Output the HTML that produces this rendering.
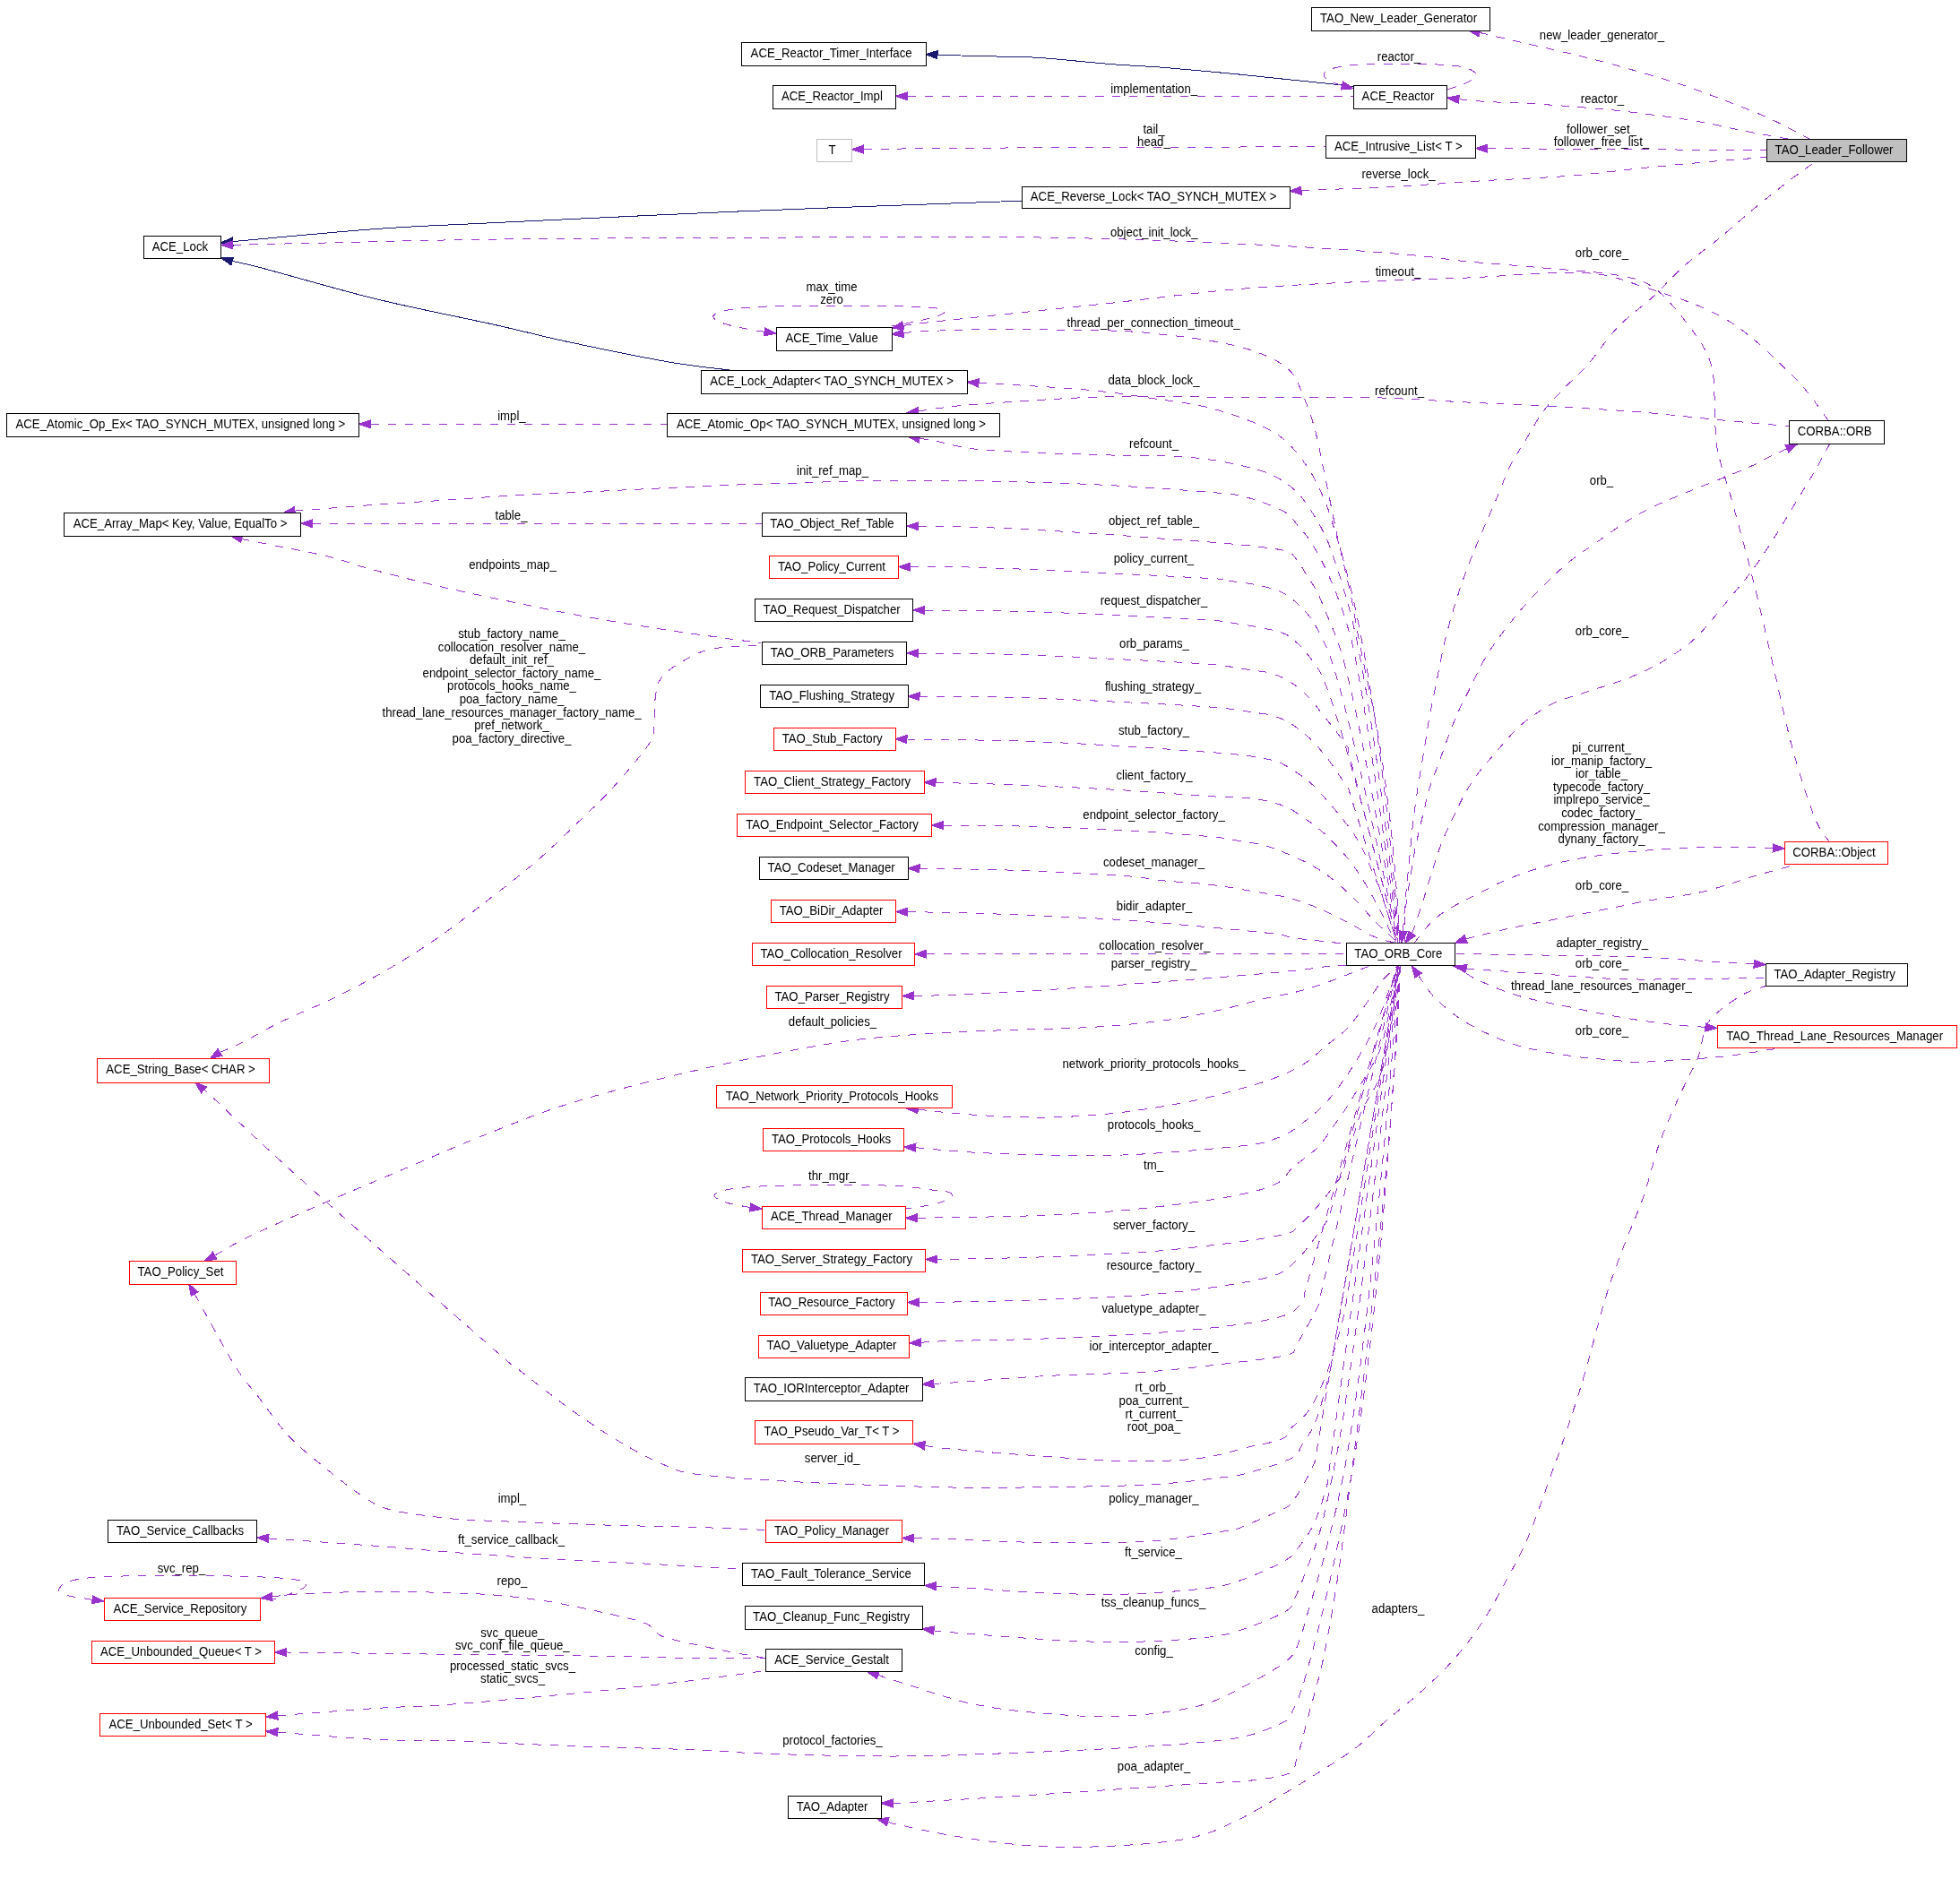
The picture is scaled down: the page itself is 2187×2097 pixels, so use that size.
<!DOCTYPE html><html><head><meta charset="utf-8"><style>html,body{margin:0;padding:0;background:#fff;overflow:hidden;}svg{display:block;will-change:transform;}text{font-family:"Liberation Sans",sans-serif;font-size:13.8px;fill:#000;}</style></head><body>
<svg width="2187" height="2097" viewBox="0 0 2187 2097">
<rect x="0" y="0" width="2187" height="2097" fill="#fff"/>
<g fill="none" stroke-width="1" shape-rendering="crispEdges">
<path d="M1046.0,61.2 C1055.0,61.5 1081.5,62.3 1100.0,62.8 C1118.5,63.3 1133.7,62.8 1157.0,64.3 C1180.3,65.8 1216.2,69.7 1240.0,71.6 C1263.8,73.5 1276.6,73.6 1300.0,75.5 C1323.4,77.4 1356.8,80.5 1380.6,82.8 C1404.4,85.1 1424.3,87.3 1443.0,89.3 C1461.7,91.2 1481.8,93.2 1493.0,94.5 C1504.2,95.8 1507.6,96.7 1510.5,97.1" stroke="#191970"/>
<path d="M1012.8,107.3 C1052.3,107.3 1167.1,107.4 1250.0,107.5 C1332.9,107.6 1466.9,107.7 1510.3,107.7" stroke="#9a32cd" stroke-dasharray="9.5,9.5"/>
<path d="M1497.4,95.6 C1494.7,94.5 1484.2,91.4 1481.0,89.0 C1477.8,86.6 1475.7,83.4 1478.0,81.0 C1480.3,78.6 1486.3,76.1 1495.0,74.5 C1503.7,72.9 1515.0,72.1 1530.0,71.6 C1545.0,71.1 1568.7,71.0 1585.0,71.4 C1601.3,71.8 1617.8,72.4 1628.0,74.0 C1638.2,75.6 1643.5,78.6 1646.0,81.0 C1648.5,83.4 1645.7,86.2 1643.0,88.5 C1640.3,90.8 1634.7,93.1 1630.0,95.0 C1625.3,96.9 1617.2,99.2 1614.6,100.0" stroke="#9a32cd" stroke-dasharray="9.5,9.5"/>
<path d="M1651.0,36.4 C1658.0,38.1 1672.0,41.4 1693.0,46.3 C1714.0,51.2 1749.2,58.8 1777.3,66.0 C1805.4,73.2 1838.1,82.6 1861.5,89.8 C1884.9,97.0 1898.9,102.4 1917.6,109.4 C1936.3,116.4 1956.8,124.3 1973.7,131.9 C1990.6,139.5 2011.5,151.3 2019.0,155.2" stroke="#9a32cd" stroke-dasharray="9.5,9.5"/>
<path d="M1627.8,110.7 C1632.5,111.2 1640.4,112.3 1656.0,113.3 C1671.6,114.3 1696.3,114.8 1721.2,116.5 C1746.1,118.2 1777.3,120.5 1805.4,123.5 C1833.5,126.5 1866.2,130.9 1889.6,134.7 C1913.0,138.4 1928.0,142.6 1945.7,146.0 C1963.4,149.4 1987.6,153.7 1996.0,155.2" stroke="#9a32cd" stroke-dasharray="9.5,9.5"/>
<path d="M1659.9,165.7 C1683.2,165.8 1748.1,166.3 1800.0,166.6 C1851.9,166.9 1942.7,167.4 1971.2,167.6" stroke="#9a32cd" stroke-dasharray="9.5,9.5"/>
<path d="M963.7,166.6 C983.9,166.4 1023.1,165.6 1085.0,165.2 C1146.9,164.8 1269.3,164.6 1335.0,164.3 C1400.7,164.0 1455.0,163.4 1479.0,163.2" stroke="#9a32cd" stroke-dasharray="9.5,9.5"/>
<path d="M1452.0,212.6 C1454.1,212.5 1453.3,212.4 1464.8,212.0 C1476.3,211.6 1502.3,210.8 1521.0,210.0 C1539.7,209.2 1555.5,208.3 1577.0,207.0 C1598.5,205.7 1621.3,203.8 1650.0,202.0 C1678.7,200.2 1718.6,198.8 1749.2,196.4 C1779.8,194.0 1805.3,190.3 1833.4,187.5 C1861.5,184.7 1894.6,181.6 1917.6,179.6 C1940.6,177.6 1962.3,176.2 1971.2,175.5" stroke="#9a32cd" stroke-dasharray="9.5,9.5"/>
<path d="M259.6,269.6 C286.5,267.2 372.6,258.9 421.0,255.4 C469.4,251.9 481.7,252.0 550.0,248.7 C618.3,245.4 738.9,239.5 830.6,235.7 C922.3,231.8 1048.4,227.5 1100.0,225.6 C1151.6,223.7 1133.7,224.7 1140.4,224.5" stroke="#191970"/>
<path d="M259.2,291.5 C265.0,292.8 267.0,292.5 294.0,299.6 C321.0,306.7 378.3,323.6 421.0,334.0 C463.7,344.4 514.5,354.1 550.0,362.0 C585.5,369.9 601.5,374.6 634.2,381.6 C666.9,388.6 716.0,398.7 746.4,404.0 C776.8,409.3 804.9,411.8 816.6,413.3" stroke="#191970"/>
<path d="M259.7,273.3 C263.2,273.2 267.8,273.1 280.6,272.8 C293.4,272.5 291.8,272.6 336.7,271.6 C381.6,270.7 467.7,268.2 550.0,267.1 C632.3,266.0 738.9,265.6 830.6,265.2 C922.3,264.8 1031.8,264.4 1100.0,264.6 C1168.2,264.8 1197.9,265.6 1240.0,266.6 C1282.1,267.6 1315.0,269.2 1352.5,270.8 C1390.0,272.4 1427.4,274.1 1464.8,276.4 C1502.2,278.7 1548.3,282.2 1577.0,284.8 C1605.7,287.4 1613.0,289.5 1637.0,291.8 C1661.0,294.1 1693.1,296.3 1721.2,298.9 C1749.3,301.5 1784.4,303.3 1805.4,307.3 C1826.5,311.3 1833.5,312.2 1847.5,322.7 C1861.5,333.2 1879.3,356.4 1889.6,370.4 C1899.9,384.4 1905.2,393.8 1909.2,406.9 C1913.2,420.0 1912.3,433.5 1913.4,449.0 C1914.5,464.5 1912.9,482.0 1916.0,500.0 C1919.1,518.0 1925.2,532.0 1932.0,557.0 C1938.8,582.0 1949.1,618.9 1956.8,649.8 C1964.5,680.7 1971.2,711.4 1978.4,742.3 C1985.6,773.2 1992.3,806.7 2000.0,835.0 C2007.7,863.3 2017.9,894.6 2024.7,912.0 C2031.5,929.4 2038.3,934.8 2041.0,939.4" stroke="#9a32cd" stroke-dasharray="9.5,9.5"/>
<path d="M1565.5,1039.3 C1566.0,1032.6 1567.4,1012.5 1568.6,999.2 C1569.8,985.9 1571.3,972.6 1572.6,959.3 C1573.9,946.0 1575.0,932.6 1576.6,919.3 C1578.2,906.0 1580.0,892.7 1582.0,879.4 C1584.0,866.1 1586.4,852.8 1588.6,839.5 C1590.8,826.2 1592.8,812.9 1595.2,799.6 C1597.6,786.3 1600.5,772.9 1603.2,759.6 C1605.9,746.3 1608.1,733.0 1611.2,719.7 C1614.3,706.4 1617.9,693.1 1621.9,679.8 C1625.9,666.5 1630.2,653.3 1635.0,640.0 C1639.8,626.7 1645.4,613.3 1651.0,600.0 C1656.6,586.7 1662.7,573.3 1668.4,560.0 C1674.1,546.7 1679.7,530.8 1685.0,520.0 C1690.3,509.2 1694.0,505.0 1700.0,495.0 C1706.0,485.0 1713.9,470.2 1721.2,460.2 C1728.5,450.2 1735.2,443.9 1743.6,435.0 C1752.0,426.1 1761.4,418.6 1771.7,406.9 C1782.0,395.2 1793.2,377.4 1805.4,364.8 C1817.6,352.2 1832.6,342.2 1844.7,331.0 C1856.8,319.8 1866.2,308.2 1878.3,297.5 C1890.4,286.8 1904.5,277.4 1917.6,266.6 C1930.7,255.9 1943.9,243.8 1957.0,233.0 C1970.1,222.2 1984.5,210.8 1996.0,202.0 C2007.5,193.2 2020.8,184.0 2025.7,180.4" stroke="#9a32cd" stroke-dasharray="9.5,9.5"/>
<path d="M1007.7,363.4 C1013.3,362.7 1025.6,360.9 1041.0,359.2 C1056.4,357.5 1066.8,356.5 1100.0,353.0 C1133.2,349.5 1193.2,343.2 1240.0,338.2 C1286.8,333.1 1333.8,326.7 1380.6,322.7 C1427.4,318.7 1478.3,316.4 1521.0,314.3 C1563.7,312.2 1596.2,311.6 1637.0,310.0 C1677.8,308.4 1733.3,302.8 1766.0,304.5 C1798.7,306.2 1806.7,311.4 1833.4,320.0 C1860.1,328.6 1897.9,339.6 1926.0,356.4 C1954.1,373.2 1982.8,402.2 2001.8,421.0 C2020.8,439.8 2033.6,461.2 2040.0,469.2" stroke="#9a32cd" stroke-dasharray="9.5,9.5"/>
<path d="M853.1,370.3 C850.1,369.8 842.9,369.1 835.0,367.5 C827.1,365.9 812.5,363.0 806.0,360.5 C799.5,358.0 794.5,355.0 796.0,352.5 C797.5,350.0 804.3,347.3 815.0,345.5 C825.7,343.7 840.8,342.5 860.0,341.8 C879.2,341.1 906.7,341.2 930.0,341.2 C953.3,341.2 980.8,341.1 1000.0,341.6 C1019.2,342.1 1036.2,342.7 1045.0,344.0 C1053.8,345.3 1055.5,347.3 1053.0,349.5 C1050.5,351.7 1039.7,354.6 1030.0,357.0 C1020.3,359.4 1000.7,362.8 994.8,364.0" stroke="#9a32cd" stroke-dasharray="9.5,9.5"/>
<path d="M1024.8,459.1 C1029.8,458.3 1042.5,456.0 1055.0,454.6 C1067.5,453.2 1069.2,452.4 1100.0,450.4 C1130.8,448.4 1193.2,443.7 1240.0,442.5 C1286.8,441.3 1333.8,443.2 1380.6,443.4 C1427.4,443.5 1478.3,442.5 1521.0,443.4 C1563.7,444.3 1599.0,447.1 1637.0,449.0 C1675.0,450.9 1716.5,452.7 1749.2,454.6 C1781.9,456.5 1805.3,457.9 1833.4,460.2 C1861.5,462.5 1890.4,466.0 1917.6,468.6 C1944.8,471.2 1983.3,474.4 1996.4,475.6" stroke="#9a32cd" stroke-dasharray="9.5,9.5"/>
<path d="M413.7,473.4 L744.2,473.4" stroke="#9a32cd" stroke-dasharray="9.5,9.5"/>
<path d="M348.9,584.2 L850.2,584.2" stroke="#9a32cd" stroke-dasharray="9.5,9.5"/>
<path d="M269.7,601.0 C271.5,601.5 264.7,600.5 280.6,603.8 C296.5,607.1 343.7,615.8 364.8,620.7 C385.9,625.6 387.1,627.9 407.0,633.3 C426.9,638.7 457.3,646.7 484.2,653.0 C511.1,659.3 540.3,665.4 568.4,671.2 C596.5,677.0 624.5,682.9 652.6,688.0 C680.7,693.1 711.0,698.0 736.7,702.0 C762.4,706.0 788.3,709.4 807.0,712.0 C825.7,714.6 842.0,716.6 849.0,717.5" stroke="#9a32cd" stroke-dasharray="9.5,9.5"/>
<path d="M245.5,1174.4 C249.8,1172.5 259.9,1168.6 271.4,1162.9 C282.9,1157.2 297.6,1148.1 314.3,1140.0 C331.0,1131.9 352.3,1123.6 371.4,1114.3 C390.4,1105.0 409.6,1095.2 428.6,1084.3 C447.7,1073.3 466.6,1061.7 485.7,1048.6 C504.8,1035.5 523.9,1020.5 542.9,1005.7 C561.9,990.9 582.9,974.8 600.0,960.0 C617.1,945.2 631.4,930.8 645.7,917.0 C660.0,903.2 672.4,891.8 685.7,877.0 C699.0,862.2 718.2,839.7 725.5,828.3 C732.8,816.9 728.8,816.7 729.7,808.7 C730.6,800.8 729.8,789.0 731.0,780.6 C732.2,772.2 732.5,764.8 736.7,758.2 C740.9,751.7 747.0,746.9 756.4,741.3 C765.8,735.7 777.5,728.0 792.9,724.5 C808.3,721.0 839.6,721.0 849.0,720.3" stroke="#9a32cd" stroke-dasharray="9.5,9.5"/>
<path d="M1008.0,371.9 C1011.2,371.6 1011.7,370.7 1027.0,370.0 C1042.3,369.3 1064.5,368.0 1100.0,367.8 C1135.5,367.6 1206.7,368.0 1240.0,369.0 C1273.3,370.0 1282.9,371.9 1300.0,373.6 C1317.1,375.3 1328.4,376.7 1342.6,379.0 C1356.8,381.3 1372.3,384.0 1385.0,387.5 C1397.7,391.0 1409.8,395.4 1419.0,400.0 C1428.2,404.6 1434.8,408.6 1440.5,415.0 C1446.2,421.4 1448.8,428.6 1453.0,438.6 C1457.2,448.6 1462.4,462.4 1466.0,474.8 C1469.6,487.2 1471.8,499.9 1474.6,513.0 C1477.4,526.1 1480.2,539.7 1483.0,553.5 C1485.8,567.3 1488.8,582.9 1491.6,596.0 C1494.4,609.1 1497.2,619.9 1500.0,632.3 C1502.8,644.7 1505.8,656.4 1508.6,670.6 C1511.4,684.8 1513.4,699.2 1517.0,717.4 C1520.6,735.6 1527.6,768.6 1530.0,780.0 C1532.4,791.4 1530.0,779.8 1531.2,785.9 C1532.4,792.0 1535.1,805.9 1537.0,816.3 C1538.8,826.7 1540.5,837.4 1542.2,848.3 C1543.9,859.3 1545.4,870.5 1546.9,881.9 C1548.4,893.4 1549.8,905.1 1551.2,917.1 C1552.5,929.1 1553.8,941.3 1554.9,953.8 C1556.1,966.3 1557.2,979.1 1558.2,992.1 C1559.2,1005.1 1560.3,1021.9 1560.9,1032.0 C1561.6,1042.0 1561.9,1049.1 1562.1,1052.5" stroke="#9a32cd" stroke-dasharray="9.5,9.5"/>
<path d="M1092.0,427.4 C1112.0,428.7 1178.0,431.9 1212.0,435.0 C1246.0,438.1 1274.2,442.9 1296.0,446.0 C1317.8,449.1 1327.8,450.1 1342.6,453.5 C1357.4,456.9 1372.3,461.6 1385.0,466.2 C1397.7,470.8 1409.8,475.7 1419.0,481.0 C1428.2,486.3 1433.4,490.5 1440.5,498.0 C1447.6,505.5 1455.4,515.5 1461.8,525.8 C1468.2,536.1 1474.5,550.0 1478.8,560.0 C1483.0,570.0 1485.5,580.0 1487.3,585.5 C1489.1,591.0 1487.4,584.9 1489.7,592.9 C1492.1,601.0 1497.7,619.1 1501.4,633.6 C1505.2,648.2 1508.9,663.7 1512.5,680.1 C1516.0,696.6 1519.5,714.1 1522.8,732.5 C1526.1,750.9 1529.3,770.3 1532.4,790.7 C1535.5,811.1 1538.5,832.4 1541.4,854.7 C1544.2,877.0 1547.0,900.3 1549.6,924.6 C1552.3,948.8 1555.2,978.9 1557.2,1000.2 C1559.2,1021.6 1561.0,1043.8 1561.7,1052.5" stroke="#9a32cd" stroke-dasharray="9.5,9.5"/>
<path d="M1026.2,489.5 C1028.6,489.8 1028.7,489.5 1041.0,491.6 C1053.3,493.7 1066.8,499.6 1100.0,502.3 C1133.2,505.0 1206.7,506.9 1240.0,508.0 C1273.3,509.1 1282.9,508.1 1300.0,508.8 C1317.1,509.5 1328.4,510.2 1342.6,512.0 C1356.8,513.8 1372.3,516.5 1385.0,519.5 C1397.7,522.5 1409.0,525.4 1419.0,530.0 C1429.0,534.6 1437.7,540.6 1444.8,547.0 C1451.9,553.4 1456.1,559.9 1461.8,568.4 C1467.5,576.9 1473.8,587.4 1478.8,598.0 C1483.8,608.6 1487.7,620.9 1491.6,632.3 C1495.5,643.7 1500.0,660.0 1502.0,666.4 C1504.0,672.8 1502.0,665.7 1503.3,670.9 C1504.7,676.1 1507.8,687.4 1510.1,697.5 C1512.4,707.5 1514.8,718.7 1517.1,731.1 C1519.5,743.5 1521.9,757.1 1524.4,771.8 C1526.9,786.5 1529.4,802.4 1531.9,819.5 C1534.5,836.6 1537.1,854.8 1539.7,874.3 C1542.3,893.7 1545.0,914.3 1547.7,936.0 C1550.4,957.8 1553.7,985.5 1556.0,1004.9 C1558.2,1024.3 1560.5,1044.6 1561.4,1052.5" stroke="#9a32cd" stroke-dasharray="9.5,9.5"/>
<path d="M329.1,570.1 C344.4,569.0 395.2,565.0 421.0,563.1 C446.8,561.2 459.6,560.6 484.2,559.0 C508.8,557.4 535.7,555.2 568.4,553.3 C601.1,551.4 640.3,549.7 680.6,547.7 C720.9,545.7 776.1,542.9 810.0,541.5 C843.9,540.1 857.6,540.1 884.0,539.3 C910.4,538.5 935.6,537.0 968.4,536.5 C1001.2,536.0 1038.5,535.8 1080.6,536.5 C1122.7,537.2 1176.3,538.6 1221.0,540.7 C1265.7,542.8 1320.9,547.0 1349.0,549.3 C1377.1,551.6 1375.6,551.1 1389.4,554.6 C1403.2,558.1 1422.1,565.0 1432.0,570.5 C1441.9,576.0 1443.7,581.6 1449.0,587.6 C1454.3,593.6 1458.7,598.2 1464.0,606.7 C1469.3,615.2 1475.7,627.3 1481.0,638.7 C1486.3,650.1 1491.5,663.2 1495.8,674.9 C1500.0,686.6 1504.0,700.4 1506.5,709.0 C1509.0,717.6 1509.2,719.5 1510.7,726.4 C1512.2,733.4 1513.6,741.1 1515.4,750.6 C1517.1,760.2 1519.0,771.2 1521.1,783.7 C1523.1,796.1 1525.4,810.1 1527.8,825.5 C1530.2,840.9 1532.8,857.8 1535.5,876.2 C1538.3,894.6 1541.2,914.4 1544.3,935.7 C1547.4,957.0 1551.4,984.5 1554.1,1004.0 C1556.9,1023.5 1559.9,1044.4 1561.0,1052.5" stroke="#9a32cd" stroke-dasharray="9.5,9.5"/>
<path d="M1024.9,587.3 C1038.9,587.6 1076.0,587.6 1108.7,589.0 C1141.4,590.4 1189.1,593.3 1221.0,595.4 C1252.9,597.5 1278.5,599.8 1300.0,601.4 C1321.5,603.0 1333.7,603.7 1350.0,605.0 C1366.3,606.3 1383.9,607.7 1398.0,609.4 C1412.1,611.1 1426.7,612.6 1434.7,615.0 C1442.7,617.4 1442.2,619.2 1446.0,623.5 C1449.8,627.8 1453.5,634.4 1457.5,640.8 C1461.5,647.2 1466.0,653.5 1470.3,662.0 C1474.5,670.5 1479.5,683.5 1483.0,692.0 C1486.5,700.5 1489.1,706.2 1491.6,713.0 C1494.1,719.8 1495.9,725.4 1498.1,733.0 C1500.3,740.5 1502.3,748.6 1504.7,758.4 C1507.0,768.3 1509.6,779.5 1512.3,792.0 C1515.0,804.5 1517.8,818.4 1520.9,833.6 C1523.9,848.8 1527.1,865.3 1530.5,883.2 C1533.8,901.1 1537.4,920.3 1541.1,940.9 C1544.8,961.5 1549.5,988.0 1552.7,1006.6 C1556.0,1025.2 1559.3,1044.9 1560.6,1052.5" stroke="#9a32cd" stroke-dasharray="9.5,9.5"/>
<path d="M1015.9,632.7 C1026.7,632.7 1051.1,632.2 1080.6,633.0 C1110.1,633.8 1148.1,635.4 1193.0,637.5 C1237.9,639.6 1321.5,643.9 1350.0,645.5 C1378.5,647.1 1354.5,645.9 1363.9,647.2 C1373.3,648.6 1395.1,651.1 1406.4,653.6 C1417.8,656.1 1424.9,658.5 1432.0,662.0 C1439.1,665.5 1443.7,669.9 1449.0,674.9 C1454.3,679.9 1459.0,684.5 1464.0,692.0 C1469.0,699.5 1475.2,712.2 1478.8,719.6 C1482.4,727.0 1483.2,729.6 1485.5,736.3 C1487.8,743.0 1490.0,750.4 1492.6,759.7 C1495.3,768.9 1498.1,779.6 1501.2,791.7 C1504.4,803.8 1507.7,817.3 1511.3,832.3 C1514.9,847.2 1518.7,863.6 1522.8,881.5 C1526.9,899.3 1531.2,918.6 1535.8,939.3 C1540.3,960.0 1546.1,986.8 1550.2,1005.7 C1554.2,1024.5 1558.5,1044.7 1560.1,1052.5" stroke="#9a32cd" stroke-dasharray="9.5,9.5"/>
<path d="M1031.9,681.0 C1049.4,681.2 1100.5,681.5 1136.7,682.4 C1172.9,683.3 1213.5,685.0 1249.0,686.6 C1284.5,688.2 1330.8,691.1 1350.0,692.2 C1369.2,693.4 1354.5,692.1 1363.9,693.5 C1373.3,694.9 1395.1,698.2 1406.4,700.4 C1417.8,702.6 1425.6,704.3 1432.0,706.8 C1438.4,709.3 1440.6,711.8 1444.8,715.3 C1449.0,718.8 1452.8,723.0 1457.0,728.0 C1461.2,733.0 1466.7,739.9 1470.0,745.0 C1473.3,750.1 1474.5,752.8 1476.9,758.5 C1479.3,764.2 1481.7,770.8 1484.6,779.1 C1487.4,787.3 1490.5,797.0 1493.9,808.1 C1497.3,819.2 1501.0,831.7 1505.0,845.6 C1509.0,859.5 1513.3,874.8 1517.8,891.5 C1522.4,908.2 1527.2,926.3 1532.3,945.8 C1537.4,965.4 1544.0,990.9 1548.5,1008.7 C1553.1,1026.4 1557.8,1045.2 1559.6,1052.5" stroke="#9a32cd" stroke-dasharray="9.5,9.5"/>
<path d="M1024.9,729.0 C1043.5,729.2 1099.3,729.4 1136.7,730.5 C1174.1,731.6 1213.5,733.9 1249.0,735.7 C1284.5,737.5 1328.2,739.7 1350.0,741.3 C1371.8,742.9 1371.5,744.2 1380.0,745.4 C1388.5,746.6 1394.1,747.3 1400.8,748.4 C1407.5,749.5 1413.5,749.8 1420.0,751.9 C1426.5,754.0 1433.0,756.8 1439.5,760.9 C1446.0,765.0 1452.9,770.8 1458.9,776.8 C1464.9,782.8 1470.2,790.3 1475.5,796.9 C1480.8,803.5 1486.1,810.2 1490.7,816.2 C1495.3,822.2 1500.8,829.1 1503.1,832.8 C1505.4,836.5 1503.1,832.8 1504.6,838.6 C1506.1,844.4 1509.6,858.0 1512.0,867.6 C1514.5,877.3 1517.0,887.0 1519.5,896.7 C1522.0,906.3 1524.5,916.0 1527.0,925.7 C1529.4,935.4 1531.9,945.0 1534.4,954.7 C1536.9,964.4 1539.4,974.1 1541.9,983.7 C1544.4,993.4 1546.8,1003.1 1549.3,1012.8 C1551.8,1022.4 1555.1,1035.2 1556.8,1041.8 C1558.5,1048.4 1559.1,1050.7 1559.5,1052.5" stroke="#9a32cd" stroke-dasharray="9.5,9.5"/>
<path d="M1026.0,777.2 C1044.4,777.4 1099.5,777.5 1136.7,778.5 C1173.9,779.5 1213.5,781.6 1249.0,783.4 C1284.5,785.1 1328.2,787.5 1350.0,789.0 C1371.8,790.5 1371.3,791.3 1380.0,792.4 C1388.7,793.5 1395.1,794.4 1402.0,795.5 C1408.9,796.6 1415.0,796.9 1421.5,799.0 C1428.0,801.1 1434.5,804.0 1441.0,808.0 C1447.5,812.0 1454.1,817.2 1460.3,823.0 C1466.5,828.8 1472.9,836.0 1478.2,842.5 C1483.5,849.0 1487.6,855.7 1492.0,861.9 C1496.4,868.1 1502.2,876.1 1504.5,879.9 C1506.8,883.7 1504.5,879.9 1506.0,884.5 C1507.4,889.2 1510.8,900.0 1513.2,907.7 C1515.7,915.4 1518.1,923.1 1520.5,930.8 C1522.9,938.5 1525.4,946.2 1527.8,953.9 C1530.2,961.7 1532.7,969.4 1535.1,977.1 C1537.5,984.8 1539.9,992.5 1542.4,1000.2 C1544.8,1007.9 1547.2,1015.6 1549.6,1023.4 C1552.1,1031.1 1555.4,1041.6 1556.9,1046.5 C1558.5,1051.3 1558.5,1051.5 1558.8,1052.5" stroke="#9a32cd" stroke-dasharray="9.5,9.5"/>
<path d="M1012.0,825.0 C1032.8,825.3 1097.2,825.8 1136.7,827.0 C1176.2,828.2 1213.5,830.4 1249.0,832.5 C1284.5,834.6 1327.5,837.8 1350.0,839.5 C1372.5,841.2 1374.4,841.4 1384.0,842.5 C1393.6,843.6 1400.5,844.6 1407.7,846.0 C1414.9,847.4 1420.5,848.1 1427.0,850.8 C1433.5,853.4 1440.2,857.8 1446.4,861.9 C1452.6,866.0 1458.6,870.4 1464.4,875.7 C1470.2,881.0 1475.7,887.7 1481.0,893.7 C1486.3,899.7 1491.4,905.7 1496.2,911.7 C1501.0,917.7 1505.9,923.5 1510.0,929.7 C1514.1,935.9 1517.3,941.4 1521.0,949.0 C1524.7,956.6 1529.1,967.7 1532.4,975.3 C1535.7,982.9 1538.7,989.5 1540.6,994.5 C1542.5,999.5 1542.9,1001.8 1543.9,1005.1 C1544.9,1008.3 1545.8,1011.0 1546.7,1013.9 C1547.6,1016.8 1548.5,1019.8 1549.5,1022.7 C1550.4,1025.6 1551.3,1028.6 1552.2,1031.5 C1553.2,1034.5 1553.9,1036.8 1555.0,1040.3 C1556.1,1043.8 1558.2,1050.5 1558.8,1052.5" stroke="#9a32cd" stroke-dasharray="9.5,9.5"/>
<path d="M1044.0,873.4 C1059.4,873.8 1102.5,874.6 1136.7,876.0 C1170.9,877.4 1213.5,879.5 1249.0,881.6 C1284.5,883.7 1328.2,887.4 1350.0,888.7 C1371.8,890.0 1371.8,889.1 1380.0,889.6 C1388.2,890.1 1393.0,890.7 1399.4,891.6 C1405.9,892.5 1412.2,893.4 1418.7,895.1 C1425.2,896.8 1431.6,898.8 1438.1,902.0 C1444.6,905.2 1451.3,910.1 1457.5,914.5 C1463.7,918.9 1469.5,923.0 1475.5,928.3 C1481.5,933.6 1488.9,941.5 1493.5,946.3 C1498.1,951.1 1500.2,953.5 1503.2,957.1 C1506.2,960.7 1508.7,964.1 1511.5,968.0 C1514.3,971.9 1517.1,976.1 1519.9,980.6 C1522.8,985.1 1525.6,989.9 1528.5,994.9 C1531.4,1000.0 1534.3,1005.4 1537.3,1011.0 C1540.2,1016.6 1543.2,1022.5 1546.2,1028.7 C1549.2,1034.9 1553.5,1044.2 1555.3,1048.2 C1557.2,1052.2 1557.0,1051.8 1557.3,1052.5" stroke="#9a32cd" stroke-dasharray="9.5,9.5"/>
<path d="M1052.9,921.1 C1066.9,921.3 1104.0,921.1 1136.7,922.0 C1169.4,922.9 1213.5,924.6 1249.0,926.5 C1284.5,928.4 1327.5,931.6 1350.0,933.6 C1372.5,935.6 1374.4,937.2 1384.0,938.7 C1393.6,940.2 1400.5,941.1 1407.7,942.8 C1414.9,944.5 1420.5,946.6 1427.0,949.0 C1433.5,951.4 1440.7,954.9 1446.4,957.4 C1452.1,959.9 1455.4,961.2 1461.0,964.3 C1466.6,967.4 1473.8,971.5 1480.0,976.0 C1486.2,980.5 1492.3,985.5 1498.4,991.0 C1504.5,996.5 1510.8,1002.8 1516.6,1008.8 C1522.4,1014.8 1527.4,1021.3 1533.0,1027.0 C1538.6,1032.7 1545.5,1038.8 1550.0,1043.0 C1554.5,1047.2 1558.3,1050.9 1560.0,1052.5" stroke="#9a32cd" stroke-dasharray="9.5,9.5"/>
<path d="M1026.0,969.3 C1044.4,969.6 1099.5,970.1 1136.7,971.4 C1173.9,972.7 1221.8,975.1 1249.0,977.0 C1276.2,978.9 1282.2,981.2 1300.0,983.0 C1317.8,984.8 1335.0,985.2 1356.0,988.0 C1377.0,990.8 1412.0,997.1 1426.0,999.5 C1440.0,1001.9 1435.1,1001.3 1440.0,1002.6 C1444.9,1003.9 1449.5,1005.3 1455.3,1007.4 C1461.0,1009.5 1468.3,1012.3 1474.5,1015.0 C1480.7,1017.7 1486.6,1020.7 1492.7,1023.7 C1498.8,1026.8 1505.1,1030.1 1511.0,1033.3 C1516.9,1036.5 1522.3,1040.3 1528.0,1043.0 C1533.7,1045.7 1539.7,1047.9 1545.0,1049.5 C1550.3,1051.1 1557.5,1052.0 1560.0,1052.5" stroke="#9a32cd" stroke-dasharray="9.5,9.5"/>
<path d="M1012.8,1017.7 C1024.7,1017.9 1058.1,1018.2 1084.0,1019.0 C1109.9,1019.8 1139.9,1021.1 1168.0,1022.4 C1196.1,1023.7 1224.5,1024.8 1252.6,1026.7 C1280.7,1028.6 1308.6,1031.2 1336.7,1033.7 C1364.8,1036.2 1403.5,1039.8 1421.0,1042.0 C1438.5,1044.2 1435.7,1045.6 1442.0,1046.7 C1448.3,1047.8 1453.3,1048.0 1459.0,1048.6 C1464.7,1049.2 1470.6,1049.9 1476.4,1050.5 C1482.2,1051.1 1489.3,1052.1 1493.6,1052.4 C1497.9,1052.7 1500.6,1052.5 1502.0,1052.5" stroke="#9a32cd" stroke-dasharray="9.5,9.5"/>
<path d="M1033.8,1064.8 L1502.3,1064.8" stroke="#9a32cd" stroke-dasharray="9.5,9.5"/>
<path d="M1019.8,1111.4 C1023.5,1111.3 1026.6,1111.6 1042.0,1111.0 C1057.4,1110.4 1081.6,1109.7 1112.0,1108.0 C1142.4,1106.3 1187.0,1103.6 1224.5,1101.0 C1262.0,1098.4 1304.0,1095.2 1336.7,1092.6 C1369.5,1090.0 1402.2,1087.3 1421.0,1085.6 C1439.8,1083.9 1441.6,1083.4 1449.2,1082.6 C1456.8,1081.8 1460.5,1081.4 1466.5,1080.6 C1472.5,1079.8 1479.0,1078.6 1485.0,1078.0 C1491.0,1077.4 1499.4,1077.2 1502.3,1077.0" stroke="#9a32cd" stroke-dasharray="9.5,9.5"/>
<path d="M1993.9,500.9 C1991.3,502.0 1986.1,504.1 1978.4,507.8 C1970.7,511.5 1962.9,516.5 1947.5,523.2 C1932.1,529.9 1902.4,541.2 1885.8,548.0 C1869.2,554.8 1859.6,558.5 1848.0,564.0 C1836.4,569.5 1827.1,574.4 1816.0,581.3 C1804.9,588.2 1791.8,598.1 1781.6,605.2 C1771.4,612.3 1763.0,617.7 1755.0,623.9 C1747.0,630.1 1741.2,635.4 1733.7,642.5 C1726.2,649.6 1716.8,659.0 1709.7,666.5 C1702.6,674.0 1697.2,680.3 1691.0,687.8 C1684.8,695.3 1678.2,703.7 1672.4,711.7 C1666.7,719.7 1661.8,726.4 1656.5,735.7 C1651.2,745.0 1645.4,757.9 1640.5,767.6 C1635.6,777.4 1631.2,785.3 1627.2,794.2 C1623.2,803.1 1620.0,811.5 1616.5,820.8 C1613.0,830.1 1609.5,840.3 1605.9,850.1 C1602.4,859.9 1598.3,869.2 1595.2,879.4 C1592.1,889.6 1590.0,900.2 1587.3,911.3 C1584.6,922.4 1581.5,934.9 1579.3,946.0 C1577.1,957.1 1575.8,966.8 1574.0,977.9 C1572.2,989.0 1569.8,1000.1 1568.6,1012.5 C1567.4,1024.9 1567.3,1045.8 1567.0,1052.5" stroke="#9a32cd" stroke-dasharray="9.5,9.5"/>
<path d="M1575.7,1041.6 C1577.6,1035.9 1583.6,1018.7 1587.3,1007.2 C1591.0,995.7 1594.4,983.7 1597.9,972.6 C1601.5,961.5 1604.6,950.8 1608.6,940.6 C1612.6,930.4 1617.5,920.6 1621.9,911.3 C1626.3,902.0 1630.4,893.1 1635.2,884.7 C1640.0,876.3 1645.7,867.9 1651.0,860.8 C1656.3,853.7 1661.7,848.3 1667.0,842.1 C1672.3,835.9 1677.7,829.3 1683.0,823.5 C1688.3,817.7 1693.7,812.1 1699.0,807.5 C1704.3,802.9 1708.8,799.6 1715.0,795.6 C1721.2,791.6 1726.1,787.8 1736.3,783.6 C1746.5,779.4 1762.9,774.7 1776.2,770.3 C1789.5,765.9 1803.8,761.9 1816.2,757.0 C1828.6,752.1 1839.7,747.2 1850.8,741.0 C1861.9,734.8 1874.3,726.2 1882.7,719.7 C1891.1,713.2 1893.0,711.3 1901.2,702.2 C1909.4,693.1 1922.7,676.5 1932.0,665.2 C1941.3,653.9 1948.5,645.6 1956.8,634.3 C1965.0,623.0 1973.3,610.2 1981.5,597.3 C1989.7,584.4 1998.8,568.8 2006.0,557.0 C2013.2,545.2 2018.8,536.6 2024.7,526.3 C2030.7,516.0 2038.9,500.5 2041.7,495.3" stroke="#9a32cd" stroke-dasharray="9.5,9.5"/>
<path d="M1978.1,946.5 C1973.4,946.4 1963.0,946.0 1950.0,945.8 C1937.0,945.6 1917.9,945.0 1900.0,945.5 C1882.1,946.0 1861.2,947.2 1842.8,948.6 C1824.4,950.0 1805.1,952.0 1789.6,954.0 C1774.1,956.0 1762.9,957.7 1749.6,960.6 C1736.3,963.5 1721.7,967.4 1709.7,971.2 C1697.7,975.0 1687.6,979.0 1677.8,983.2 C1668.0,987.4 1659.1,992.5 1651.1,996.5 C1643.1,1000.5 1636.4,1003.7 1629.8,1007.2 C1623.2,1010.8 1617.0,1013.8 1611.2,1017.8 C1605.4,1021.8 1600.7,1025.3 1595.2,1031.1 C1589.7,1036.9 1580.9,1048.9 1578.0,1052.5" stroke="#9a32cd" stroke-dasharray="9.5,9.5"/>
<path d="M1635.6,1047.8 C1643.5,1045.9 1666.2,1040.1 1683.0,1036.4 C1699.8,1032.7 1718.5,1029.3 1736.3,1025.8 C1754.1,1022.2 1771.8,1018.6 1789.6,1015.1 C1807.3,1011.6 1824.4,1007.8 1842.8,1004.5 C1861.2,1001.2 1880.5,999.8 1900.0,995.2 C1919.5,990.6 1942.3,982.1 1960.0,977.0 C1977.7,971.9 1998.3,966.5 2006.0,964.4" stroke="#9a32cd" stroke-dasharray="9.5,9.5"/>
<path d="M1957.1,1075.8 C1950.5,1075.4 1933.5,1074.5 1917.6,1073.5 C1901.7,1072.5 1880.3,1071.0 1861.5,1070.0 C1842.7,1069.0 1828.4,1068.0 1805.0,1067.3 C1781.6,1066.6 1751.3,1066.5 1721.0,1066.0 C1690.7,1065.5 1639.5,1064.8 1623.2,1064.5" stroke="#9a32cd" stroke-dasharray="9.5,9.5"/>
<path d="M1636.0,1081.1 C1650.2,1082.1 1693.0,1085.1 1721.2,1087.0 C1749.4,1088.9 1777.3,1091.7 1805.4,1092.6 C1833.5,1093.5 1862.1,1092.8 1889.6,1092.6 C1917.1,1092.4 1956.9,1091.4 1970.4,1091.2" stroke="#9a32cd" stroke-dasharray="9.5,9.5"/>
<path d="M1902.9,1146.4 C1896.0,1145.8 1877.8,1145.0 1861.5,1143.0 C1845.2,1141.0 1824.1,1138.0 1805.4,1134.7 C1786.7,1131.5 1767.9,1127.5 1749.2,1123.5 C1730.5,1119.5 1709.2,1115.8 1693.0,1111.0 C1676.8,1106.2 1661.1,1099.0 1651.8,1095.0 C1642.5,1091.0 1642.3,1090.0 1637.0,1087.0 C1631.7,1084.0 1622.8,1078.9 1620.0,1077.3" stroke="#9a32cd" stroke-dasharray="9.5,9.5"/>
<path d="M1582.6,1088.6 C1585.8,1092.9 1592.7,1105.4 1601.8,1114.3 C1610.9,1123.2 1622.6,1133.4 1637.5,1142.0 C1652.4,1150.6 1671.7,1159.9 1691.0,1166.0 C1710.3,1172.1 1735.4,1175.8 1753.6,1178.6 C1771.8,1181.4 1786.7,1181.9 1800.0,1183.0 C1813.3,1184.1 1813.8,1185.8 1833.4,1185.2 C1853.0,1184.6 1892.3,1182.1 1917.6,1179.6 C1942.9,1177.1 1971.3,1171.7 1985.0,1170.0 C1998.7,1168.3 1997.5,1169.6 2000.0,1169.5" stroke="#9a32cd" stroke-dasharray="9.5,9.5"/>
<path d="M990.8,2033.2 C992.6,2033.7 989.1,2033.6 1001.8,2036.3 C1014.5,2039.0 1041.5,2045.4 1066.8,2049.4 C1092.1,2053.4 1124.7,2058.4 1153.6,2060.2 C1182.5,2062.0 1211.4,2061.6 1240.3,2060.2 C1269.2,2058.8 1303.7,2056.2 1327.0,2051.5 C1350.3,2046.8 1362.8,2039.8 1380.0,2031.8 C1397.2,2023.8 1414.6,2012.5 1430.3,2003.3 C1446.0,1994.1 1459.9,1985.4 1473.9,1976.5 C1487.9,1967.6 1501.8,1959.2 1514.1,1949.7 C1526.4,1940.2 1535.4,1930.1 1547.7,1919.5 C1560.0,1908.9 1575.1,1897.8 1587.9,1886.0 C1600.8,1874.2 1613.6,1861.9 1624.8,1849.0 C1636.0,1836.1 1645.5,1823.3 1655.0,1808.8 C1664.5,1794.3 1673.4,1777.5 1681.8,1761.9 C1690.2,1746.3 1697.5,1733.5 1705.3,1715.0 C1713.1,1696.5 1721.5,1671.3 1728.8,1651.2 C1736.1,1631.1 1742.2,1614.3 1748.9,1594.2 C1755.6,1574.1 1761.9,1554.7 1769.0,1530.5 C1776.1,1506.3 1784.3,1471.9 1791.3,1449.0 C1798.3,1426.1 1804.0,1411.7 1811.0,1393.0 C1818.0,1374.3 1826.9,1355.4 1833.4,1336.7 C1839.9,1318.0 1844.4,1297.0 1850.0,1280.6 C1855.6,1264.2 1861.3,1251.6 1867.0,1238.5 C1872.7,1225.4 1879.3,1211.8 1884.0,1202.0 C1888.7,1192.2 1891.7,1188.9 1895.0,1179.6 C1898.3,1170.3 1899.8,1154.4 1903.6,1146.0 C1907.4,1137.6 1910.6,1135.1 1917.6,1129.0 C1924.6,1122.9 1936.8,1114.2 1945.7,1109.4 C1954.6,1104.6 1966.8,1101.7 1971.0,1100.2" stroke="#9a32cd" stroke-dasharray="9.5,9.5"/>
<path d="M1024.2,1238.2 C1034.2,1239.2 1060.0,1242.5 1084.0,1244.0 C1108.0,1245.5 1139.9,1247.5 1168.0,1247.0 C1196.1,1246.5 1224.4,1244.6 1252.6,1241.3 C1280.8,1238.0 1312.0,1232.6 1337.0,1227.3 C1362.0,1222.0 1388.2,1213.8 1402.7,1209.7 C1417.2,1205.6 1417.3,1205.0 1424.0,1202.4 C1430.7,1199.9 1436.4,1197.6 1442.6,1194.4 C1448.8,1191.2 1455.0,1187.6 1461.2,1183.0 C1467.4,1178.4 1472.9,1172.8 1479.8,1167.0 C1486.7,1161.2 1495.4,1155.8 1502.4,1148.5 C1509.4,1141.2 1515.5,1132.3 1522.0,1123.5 C1528.5,1114.7 1535.3,1103.1 1541.6,1095.4 C1547.9,1087.7 1556.9,1080.3 1560.0,1077.3" stroke="#9a32cd" stroke-dasharray="9.5,9.5"/>
<path d="M1021.8,1280.7 C1032.2,1281.6 1059.6,1284.6 1084.0,1286.0 C1108.4,1287.4 1139.9,1288.5 1168.0,1289.0 C1196.1,1289.5 1224.4,1289.9 1252.6,1289.0 C1280.8,1288.1 1312.4,1285.4 1337.0,1283.4 C1361.6,1281.4 1385.7,1279.1 1400.0,1277.0 C1414.3,1274.9 1415.7,1273.5 1422.6,1271.0 C1429.5,1268.5 1435.0,1266.1 1441.2,1262.3 C1447.4,1258.5 1454.8,1252.3 1459.9,1248.3 C1465.0,1244.3 1467.6,1242.3 1471.8,1238.3 C1476.0,1234.3 1479.9,1230.5 1485.0,1224.3 C1490.1,1218.1 1497.1,1208.8 1502.4,1201.0 C1507.7,1193.2 1512.3,1185.7 1517.0,1177.8 C1521.7,1169.9 1526.4,1161.8 1530.4,1153.8 C1534.4,1145.8 1537.7,1138.0 1541.0,1129.9 C1544.3,1121.8 1546.8,1113.8 1550.0,1105.0 C1553.2,1096.2 1558.3,1081.9 1560.0,1077.3" stroke="#9a32cd" stroke-dasharray="9.5,9.5"/>
<path d="M1023.7,1359.2 C1038.4,1359.0 1083.2,1358.5 1112.0,1357.8 C1140.8,1357.1 1168.3,1356.6 1196.4,1355.0 C1224.5,1353.4 1252.5,1351.0 1280.6,1348.0 C1308.7,1345.0 1341.4,1340.9 1364.8,1336.7 C1388.2,1332.5 1408.0,1328.4 1421.0,1322.7 C1434.0,1317.0 1435.9,1308.5 1442.6,1302.8 C1449.3,1297.0 1456.1,1292.4 1461.2,1288.2 C1466.3,1284.0 1467.9,1284.0 1473.2,1277.6 C1478.5,1271.2 1488.1,1256.5 1493.0,1249.6 C1497.9,1242.7 1498.8,1241.8 1502.4,1236.3 C1506.0,1230.8 1509.3,1224.8 1514.4,1216.4 C1519.5,1208.0 1528.4,1194.4 1533.0,1185.8 C1537.6,1177.2 1539.2,1174.3 1542.0,1165.0 C1544.8,1155.7 1547.0,1144.6 1550.0,1130.0 C1553.0,1115.4 1558.3,1086.1 1560.0,1077.3" stroke="#9a32cd" stroke-dasharray="9.5,9.5"/>
<path d="M1045.9,1405.5 C1047.6,1405.5 1035.6,1406.0 1056.0,1405.5 C1076.4,1405.0 1130.6,1404.1 1168.0,1402.7 C1205.4,1401.3 1245.5,1399.7 1280.6,1397.0 C1315.7,1394.3 1353.1,1389.8 1378.8,1386.5 C1404.5,1383.2 1423.3,1380.1 1435.0,1377.0 C1446.7,1373.9 1442.9,1373.3 1449.0,1368.0 C1455.1,1362.7 1464.4,1353.0 1471.4,1345.0 C1478.4,1337.0 1486.5,1326.1 1491.0,1320.0 C1495.5,1313.9 1496.2,1314.6 1498.5,1308.2 C1500.8,1301.8 1503.1,1288.4 1505.1,1281.5 C1507.1,1274.6 1508.0,1274.1 1510.4,1267.0 C1512.8,1259.9 1514.8,1250.2 1519.7,1239.0 C1524.6,1227.8 1534.5,1216.5 1540.0,1200.0 C1545.5,1183.5 1549.7,1160.5 1553.0,1140.0 C1556.3,1119.5 1558.8,1087.8 1560.0,1077.3" stroke="#9a32cd" stroke-dasharray="9.5,9.5"/>
<path d="M1025.7,1453.5 C1030.7,1453.4 1032.3,1453.7 1056.0,1453.2 C1079.7,1452.7 1130.6,1451.8 1168.0,1450.4 C1205.4,1449.0 1247.8,1447.4 1280.6,1444.8 C1313.4,1442.2 1341.4,1438.5 1364.8,1435.0 C1388.2,1431.5 1407.9,1427.9 1421.0,1423.7 C1434.1,1419.5 1436.4,1415.8 1443.4,1409.7 C1450.4,1403.6 1456.5,1395.6 1463.0,1387.2 C1469.5,1378.8 1479.1,1365.1 1482.7,1359.2 C1486.3,1353.3 1482.7,1359.2 1484.7,1351.8 C1486.7,1344.5 1491.4,1327.3 1494.7,1315.1 C1498.0,1302.8 1501.4,1290.6 1504.7,1278.3 C1508.0,1266.0 1511.4,1253.8 1514.7,1241.5 C1518.1,1229.3 1521.4,1217.0 1524.7,1204.7 C1528.1,1192.5 1531.4,1180.2 1534.7,1168.0 C1538.1,1155.7 1541.4,1143.5 1544.7,1131.2 C1548.1,1118.9 1552.3,1103.4 1554.7,1094.4 C1557.2,1085.4 1558.6,1080.2 1559.4,1077.3" stroke="#9a32cd" stroke-dasharray="9.5,9.5"/>
<path d="M1027.7,1498.3 C1032.4,1498.0 1032.6,1497.4 1056.0,1496.7 C1079.4,1496.0 1130.6,1495.3 1168.0,1493.9 C1205.4,1492.5 1245.3,1490.9 1280.6,1488.3 C1315.9,1485.7 1353.9,1482.1 1380.0,1478.5 C1406.1,1474.9 1424.7,1471.5 1437.0,1466.8 C1449.3,1462.0 1450.5,1454.4 1453.8,1450.0 C1457.1,1445.6 1453.8,1450.0 1456.5,1440.4 C1459.2,1430.8 1465.6,1408.3 1470.1,1392.2 C1474.7,1376.2 1479.2,1360.2 1483.8,1344.1 C1488.3,1328.1 1492.8,1312.0 1497.4,1296.0 C1501.9,1280.0 1506.5,1263.9 1511.0,1247.9 C1515.5,1231.8 1520.1,1215.8 1524.6,1199.8 C1529.2,1183.7 1533.7,1167.7 1538.2,1151.6 C1542.8,1135.6 1548.3,1115.9 1551.9,1103.5 C1555.4,1091.1 1558.0,1081.7 1559.3,1077.3" stroke="#9a32cd" stroke-dasharray="9.5,9.5"/>
<path d="M1042.0,1544.3 C1044.3,1544.1 1035.0,1545.0 1056.0,1543.5 C1077.0,1542.0 1130.6,1537.6 1168.0,1535.5 C1205.4,1533.4 1245.3,1533.4 1280.6,1530.9 C1315.9,1528.4 1353.9,1523.6 1380.0,1520.4 C1406.1,1517.2 1425.8,1515.3 1437.0,1512.0 C1448.2,1508.7 1441.4,1509.2 1447.0,1500.3 C1452.6,1491.4 1466.2,1467.0 1470.5,1458.4 C1474.8,1449.8 1470.5,1458.4 1472.8,1448.6 C1475.1,1438.7 1480.5,1415.8 1484.3,1399.4 C1488.2,1383.0 1492.0,1366.6 1495.9,1350.2 C1499.7,1333.8 1503.6,1317.4 1507.4,1301.0 C1511.2,1284.6 1515.1,1268.3 1518.9,1251.9 C1522.8,1235.5 1526.6,1219.1 1530.5,1202.7 C1534.3,1186.3 1538.2,1169.9 1542.0,1153.5 C1545.8,1137.1 1550.5,1117.0 1553.5,1104.3 C1556.5,1091.6 1558.8,1081.8 1559.9,1077.3" stroke="#9a32cd" stroke-dasharray="9.5,9.5"/>
<path d="M1031.8,1613.2 C1035.8,1613.7 1037.9,1614.8 1056.0,1616.5 C1074.1,1618.2 1107.5,1621.2 1140.3,1623.5 C1173.1,1625.8 1219.9,1629.8 1252.6,1630.5 C1285.3,1631.2 1313.3,1630.3 1336.7,1627.7 C1360.1,1625.1 1377.4,1618.6 1393.0,1615.0 C1408.6,1611.4 1422.4,1609.5 1430.3,1606.0 C1438.2,1602.5 1435.4,1599.5 1440.4,1594.2 C1445.4,1588.9 1454.3,1583.0 1460.5,1574.0 C1466.7,1565.0 1472.3,1552.8 1477.3,1540.5 C1482.3,1528.2 1486.8,1513.1 1490.7,1500.3 C1494.6,1487.5 1498.8,1471.2 1500.7,1463.4 C1502.6,1455.6 1500.7,1463.4 1502.3,1453.4 C1503.8,1443.5 1507.4,1420.2 1510.0,1403.6 C1512.6,1387.0 1515.2,1370.4 1517.8,1353.8 C1520.3,1337.2 1522.9,1320.6 1525.5,1304.0 C1528.1,1287.4 1530.7,1270.8 1533.3,1254.2 C1535.9,1237.6 1538.4,1221.0 1541.0,1204.4 C1543.6,1187.8 1546.2,1171.2 1548.8,1154.6 C1551.4,1138.0 1554.5,1117.7 1556.5,1104.8 C1558.6,1092.0 1560.1,1081.9 1560.8,1077.3" stroke="#9a32cd" stroke-dasharray="9.5,9.5"/>
<path d="M227.6,1216.4 C229.1,1217.7 218.8,1207.7 237.0,1224.5 C255.2,1241.3 284.5,1270.2 336.7,1317.0 C388.9,1363.8 509.2,1469.4 550.0,1505.0 C590.8,1540.6 566.4,1518.8 581.4,1530.6 C596.4,1542.3 621.1,1561.9 640.3,1575.5 C659.5,1589.1 679.1,1601.9 696.4,1612.0 C713.7,1622.1 730.0,1630.4 744.0,1636.0 C758.0,1641.6 755.8,1642.7 780.6,1645.7 C805.4,1648.7 848.1,1651.7 893.0,1654.0 C937.9,1656.3 1008.8,1658.7 1050.0,1659.7 C1091.2,1660.7 1101.9,1660.5 1140.3,1660.0 C1178.7,1659.5 1243.2,1658.9 1280.6,1657.0 C1318.0,1655.1 1346.6,1650.8 1364.8,1648.7 C1383.0,1646.6 1377.4,1648.0 1390.0,1644.5 C1402.6,1641.0 1429.8,1633.3 1440.4,1627.7 C1451.0,1622.1 1449.0,1618.3 1453.8,1611.0 C1458.5,1603.7 1463.9,1597.5 1468.9,1584.1 C1473.9,1570.7 1481.2,1541.4 1484.0,1530.5 C1486.8,1519.6 1484.0,1530.5 1486.0,1518.9 C1487.9,1507.2 1492.5,1480.1 1495.8,1460.7 C1499.1,1441.3 1502.4,1421.9 1505.7,1402.5 C1508.9,1383.1 1512.2,1363.7 1515.5,1344.3 C1518.8,1324.9 1522.1,1305.5 1525.3,1286.1 C1528.6,1266.7 1531.9,1247.3 1535.2,1227.9 C1538.5,1208.5 1541.8,1189.1 1545.0,1169.7 C1548.3,1150.3 1552.3,1127.0 1554.9,1111.5 C1557.5,1096.1 1559.7,1083.0 1560.7,1077.3" stroke="#9a32cd" stroke-dasharray="9.5,9.5"/>
<path d="M1019.8,1716.8 C1025.8,1716.9 1031.3,1716.7 1056.0,1717.5 C1080.7,1718.3 1130.6,1721.2 1168.0,1721.7 C1205.4,1722.2 1247.8,1722.4 1280.6,1720.3 C1313.4,1718.2 1348.2,1711.3 1364.8,1709.0 C1381.4,1706.7 1369.1,1710.5 1380.0,1706.5 C1390.9,1702.5 1420.2,1689.5 1430.3,1684.7 C1440.4,1680.0 1436.5,1682.5 1440.4,1678.0 C1444.3,1673.5 1449.3,1665.8 1453.8,1658.0 C1458.3,1650.2 1464.6,1637.9 1467.2,1631.0 C1469.8,1624.1 1467.2,1631.0 1469.6,1616.8 C1472.0,1602.7 1477.6,1569.7 1481.5,1546.1 C1485.5,1522.5 1489.5,1498.9 1493.5,1475.4 C1497.5,1451.8 1501.4,1428.2 1505.4,1404.6 C1509.4,1381.0 1513.4,1357.4 1517.4,1333.8 C1521.3,1310.3 1525.3,1286.7 1529.3,1263.1 C1533.3,1239.5 1537.3,1215.9 1541.3,1192.3 C1545.2,1168.8 1550.0,1140.8 1553.2,1121.6 C1556.4,1102.4 1559.4,1084.7 1560.7,1077.3" stroke="#9a32cd" stroke-dasharray="9.5,9.5"/>
<path d="M1044.8,1770.2 C1046.6,1770.3 1035.5,1769.5 1056.0,1770.8 C1076.5,1772.1 1135.2,1776.4 1168.0,1777.8 C1200.8,1779.2 1224.5,1779.9 1252.6,1779.2 C1280.7,1778.5 1315.5,1775.9 1336.7,1773.6 C1357.9,1771.3 1363.8,1770.5 1380.0,1765.2 C1396.2,1759.9 1422.0,1748.5 1433.7,1741.8 C1445.4,1735.1 1444.8,1732.3 1450.4,1725.0 C1456.0,1717.7 1462.2,1709.4 1467.2,1698.2 C1472.2,1687.0 1478.0,1667.2 1480.6,1658.0 C1483.2,1648.8 1480.6,1658.0 1482.7,1643.2 C1484.7,1628.3 1489.5,1593.8 1492.9,1569.1 C1496.3,1544.3 1499.8,1519.6 1503.2,1494.9 C1506.6,1470.2 1510.0,1445.5 1513.5,1420.8 C1516.9,1396.1 1520.3,1371.4 1523.7,1346.7 C1527.2,1322.0 1530.6,1297.3 1534.0,1272.5 C1537.4,1247.8 1540.8,1223.1 1544.3,1198.4 C1547.7,1173.7 1551.7,1144.5 1554.5,1124.3 C1557.3,1104.1 1560.0,1085.1 1561.0,1077.3" stroke="#9a32cd" stroke-dasharray="9.5,9.5"/>
<path d="M1041.9,1819.4 C1044.2,1819.7 1035.0,1819.6 1056.0,1821.3 C1077.0,1823.0 1135.2,1827.8 1168.0,1829.7 C1200.8,1831.6 1224.5,1832.7 1252.6,1832.5 C1280.7,1832.3 1315.5,1830.3 1336.7,1828.3 C1357.9,1826.3 1363.8,1825.5 1380.0,1820.6 C1396.2,1815.7 1422.8,1805.2 1433.7,1798.8 C1444.6,1792.4 1440.9,1791.0 1445.4,1782.0 C1449.9,1773.0 1455.7,1757.8 1460.5,1745.0 C1465.3,1732.2 1469.5,1721.7 1474.0,1704.9 C1478.5,1688.2 1484.9,1655.5 1487.3,1644.5 C1489.7,1633.5 1487.2,1645.6 1488.5,1639.0 C1489.8,1632.3 1492.7,1617.8 1495.0,1604.4 C1497.3,1590.9 1499.7,1575.6 1502.3,1558.3 C1504.9,1541.1 1507.7,1521.9 1510.6,1500.8 C1513.5,1479.7 1516.6,1456.7 1519.8,1431.8 C1523.0,1406.9 1526.3,1380.1 1529.8,1351.3 C1533.3,1322.6 1537.0,1292.0 1540.8,1259.4 C1544.6,1226.8 1549.2,1186.3 1552.6,1156.0 C1556.1,1125.6 1559.9,1090.4 1561.4,1077.3" stroke="#9a32cd" stroke-dasharray="9.5,9.5"/>
<path d="M979.7,1869.3 C983.1,1870.4 982.6,1870.7 1000.0,1876.0 C1017.4,1881.3 1056.0,1895.2 1084.0,1901.3 C1112.0,1907.4 1139.9,1910.2 1168.0,1912.5 C1196.1,1914.8 1224.5,1916.7 1252.6,1915.3 C1280.7,1913.9 1313.8,1909.7 1336.7,1904.0 C1359.6,1898.3 1373.3,1889.6 1390.0,1881.0 C1406.7,1872.4 1426.9,1861.1 1437.0,1852.4 C1447.1,1843.7 1446.5,1838.5 1450.4,1829.0 C1454.3,1819.5 1456.0,1810.5 1460.5,1795.4 C1465.0,1780.3 1472.3,1756.9 1477.3,1738.4 C1482.3,1720.0 1488.2,1694.8 1490.7,1684.7 C1493.2,1674.6 1490.7,1685.8 1492.4,1677.9 C1494.0,1669.9 1497.9,1652.4 1500.8,1637.0 C1503.6,1621.5 1506.4,1604.1 1509.3,1585.0 C1512.2,1565.8 1515.2,1544.8 1518.1,1521.9 C1521.1,1499.1 1524.0,1474.3 1527.1,1447.8 C1530.1,1421.2 1533.1,1392.8 1536.2,1362.6 C1539.3,1332.3 1542.4,1300.2 1545.5,1266.3 C1548.6,1232.3 1552.3,1190.4 1555.0,1158.9 C1557.7,1127.4 1560.6,1090.9 1561.8,1077.3" stroke="#9a32cd" stroke-dasharray="9.5,9.5"/>
<path d="M309.9,1933.1 C328.4,1934.5 387.9,1939.8 421.0,1941.5 C454.1,1943.2 471.8,1941.8 508.4,1943.0 C544.9,1944.2 594.9,1947.0 640.3,1948.7 C685.7,1950.4 745.6,1951.6 780.6,1953.0 C815.6,1954.4 813.4,1955.8 850.0,1957.0 C886.6,1958.2 951.6,1960.2 1000.0,1960.0 C1048.4,1959.8 1093.5,1957.8 1140.3,1956.0 C1187.1,1954.2 1240.6,1951.7 1280.6,1949.0 C1320.5,1946.3 1355.0,1944.0 1380.0,1939.6 C1405.0,1935.2 1420.2,1927.3 1430.3,1922.8 C1440.4,1918.3 1436.8,1918.9 1440.4,1912.8 C1444.0,1906.7 1447.6,1899.4 1452.1,1886.0 C1456.6,1872.6 1462.5,1850.2 1467.2,1832.3 C1472.0,1814.4 1476.1,1797.6 1480.6,1778.6 C1485.1,1759.6 1491.4,1730.1 1494.0,1718.3 C1496.6,1706.5 1494.1,1719.0 1496.3,1707.7 C1498.5,1696.3 1503.8,1670.6 1507.4,1650.2 C1511.0,1629.8 1514.4,1608.2 1517.8,1585.3 C1521.1,1562.5 1524.3,1538.5 1527.3,1513.2 C1530.4,1487.9 1533.4,1461.4 1536.2,1433.7 C1539.0,1406.0 1541.7,1377.1 1544.2,1346.9 C1546.8,1316.8 1549.2,1285.4 1551.5,1252.8 C1553.8,1220.3 1556.3,1180.7 1558.1,1151.4 C1559.8,1122.2 1561.4,1089.7 1562.1,1077.3" stroke="#9a32cd" stroke-dasharray="9.5,9.5"/>
<path d="M996.0,2012.5 C1015.0,2011.4 1069.5,2008.5 1110.2,2006.0 C1150.9,2003.5 1196.9,2000.2 1240.3,1997.3 C1283.7,1994.4 1346.0,1990.1 1370.4,1988.6 C1394.8,1987.1 1375.6,1989.7 1386.7,1988.2 C1397.8,1986.7 1427.0,1984.0 1437.0,1979.8 C1447.0,1975.6 1443.1,1974.2 1447.0,1963.0 C1450.9,1951.8 1456.0,1929.5 1460.5,1912.8 C1465.0,1896.0 1470.1,1879.3 1474.0,1862.5 C1477.9,1845.7 1480.7,1830.7 1484.0,1812.2 C1487.3,1793.8 1491.2,1770.2 1494.0,1751.8 C1496.8,1733.3 1499.1,1713.3 1500.7,1701.5 C1502.3,1689.7 1500.9,1700.9 1503.4,1680.8 C1506.0,1660.7 1512.2,1613.3 1516.2,1581.0 C1520.2,1548.8 1524.0,1517.6 1527.5,1487.4 C1531.0,1457.2 1534.2,1428.0 1537.2,1399.9 C1540.2,1371.7 1543.0,1344.6 1545.5,1318.5 C1547.9,1292.4 1550.2,1267.3 1552.1,1243.2 C1554.1,1219.1 1555.8,1196.1 1557.3,1174.0 C1558.8,1152.0 1560.1,1127.1 1560.9,1111.0 C1561.8,1094.9 1562.1,1082.9 1562.3,1077.3" stroke="#9a32cd" stroke-dasharray="9.5,9.5"/>
<path d="M239.7,1401.1 C246.0,1397.6 257.4,1390.0 277.8,1380.2 C298.2,1370.4 333.3,1354.9 362.0,1342.4 C390.7,1329.9 419.6,1317.9 450.0,1305.0 C480.4,1292.1 512.7,1277.7 544.4,1265.2 C576.1,1252.7 600.9,1241.9 640.3,1230.0 C679.7,1218.1 733.8,1204.3 780.6,1193.6 C827.4,1182.9 883.5,1171.9 921.0,1165.6 C958.5,1159.3 973.8,1158.3 1005.6,1155.7 C1037.4,1153.1 1075.5,1151.6 1112.0,1150.0 C1148.5,1148.4 1191.7,1148.1 1224.5,1146.0 C1257.3,1143.9 1285.3,1140.8 1308.7,1137.5 C1332.1,1134.2 1349.6,1129.7 1364.8,1126.3 C1380.0,1122.9 1390.8,1119.5 1400.0,1117.2 C1409.2,1114.9 1413.3,1114.0 1420.0,1112.6 C1426.7,1111.2 1433.8,1110.0 1440.0,1108.6 C1446.2,1107.2 1451.0,1105.8 1457.0,1104.0 C1463.0,1102.2 1469.5,1100.1 1475.8,1098.0 C1482.0,1095.9 1487.2,1094.1 1494.5,1091.3 C1501.8,1088.5 1513.8,1083.6 1519.7,1081.3 C1525.6,1079.0 1528.3,1078.0 1530.0,1077.3" stroke="#9a32cd" stroke-dasharray="9.5,9.5"/>
<path d="M837.0,1347.5 C832.5,1346.6 816.7,1344.3 810.0,1342.0 C803.3,1339.7 796.2,1336.5 797.0,1334.0 C797.8,1331.5 804.5,1328.8 815.0,1327.0 C825.5,1325.2 840.8,1324.2 860.0,1323.5 C879.2,1322.8 906.7,1322.5 930.0,1322.5 C953.3,1322.5 981.3,1322.5 1000.0,1323.5 C1018.7,1324.5 1032.0,1327.0 1042.0,1328.3 C1052.0,1329.5 1057.0,1329.5 1060.0,1331.0 C1063.0,1332.5 1063.0,1334.8 1060.0,1337.0 C1057.0,1339.2 1050.3,1342.0 1042.0,1344.0 C1033.7,1346.0 1015.7,1348.2 1010.4,1349.0" stroke="#9a32cd" stroke-dasharray="9.5,9.5"/>
<path d="M217.2,1444.2 C224.8,1457.6 250.4,1505.4 262.4,1524.7 C274.4,1544.0 278.9,1546.7 289.0,1559.8 C299.1,1572.9 310.1,1590.0 322.7,1603.3 C335.3,1616.6 351.2,1628.8 364.8,1639.8 C378.4,1650.8 392.3,1661.8 404.0,1669.3 C415.7,1676.8 419.0,1680.5 435.0,1684.7 C451.0,1688.9 479.8,1692.3 500.0,1694.5 C520.2,1696.7 527.9,1696.4 556.0,1697.6 C584.1,1698.8 631.0,1700.6 668.4,1701.8 C705.8,1703.0 749.6,1703.7 780.6,1704.6 C811.6,1705.5 842.1,1706.9 854.4,1707.4" stroke="#9a32cd" stroke-dasharray="9.5,9.5"/>
<path d="M299.8,1716.9 C320.0,1718.3 386.2,1722.8 421.0,1725.4 C455.8,1728.0 476.5,1730.3 508.4,1732.7 C540.3,1735.1 576.2,1737.6 612.2,1739.7 C648.2,1741.8 688.5,1743.4 724.5,1745.3 C760.5,1747.2 811.0,1750.0 828.3,1751.0" stroke="#9a32cd" stroke-dasharray="9.5,9.5"/>
<path d="M103.0,1785.3 C98.0,1784.4 79.2,1782.0 73.0,1780.0 C66.8,1778.0 64.8,1775.7 66.0,1773.0 C67.2,1770.3 71.0,1766.2 80.0,1764.0 C89.0,1761.8 100.0,1760.4 120.0,1759.5 C140.0,1758.6 173.3,1758.7 200.0,1758.7 C226.7,1758.7 258.3,1758.8 280.0,1759.5 C301.7,1760.2 319.8,1761.2 330.0,1763.0 C340.2,1764.8 344.1,1767.0 341.0,1770.3 C337.9,1773.6 319.9,1780.4 311.5,1783.0 C303.1,1785.6 293.9,1785.5 290.4,1786.0" stroke="#9a32cd" stroke-dasharray="9.5,9.5"/>
<path d="M303.6,1782.1 C309.1,1781.5 317.1,1779.7 336.7,1778.7 C356.3,1777.7 393.8,1776.5 421.0,1776.3 C448.2,1776.1 477.5,1776.9 500.0,1777.6 C522.5,1778.3 537.3,1778.8 556.0,1780.4 C574.7,1782.0 593.5,1784.4 612.2,1787.4 C630.9,1790.4 650.6,1794.6 668.4,1798.6 C686.2,1802.6 708.1,1807.2 718.9,1811.2 C729.7,1815.2 728.8,1819.7 733.0,1822.5 C737.2,1825.3 736.1,1825.7 744.0,1828.0 C751.9,1830.3 767.5,1833.7 780.6,1836.5 C793.7,1839.3 810.4,1842.7 822.7,1845.0 C835.0,1847.3 849.1,1849.6 854.4,1850.5" stroke="#9a32cd" stroke-dasharray="9.5,9.5"/>
<path d="M319.7,1844.1 C322.5,1844.1 306.6,1843.8 336.7,1844.2 C366.8,1844.6 449.4,1845.7 500.0,1846.3 C550.6,1846.9 593.5,1847.0 640.3,1847.7 C687.1,1848.4 744.9,1850.0 780.6,1850.5 C816.3,1851.0 842.1,1850.5 854.4,1850.5" stroke="#9a32cd" stroke-dasharray="9.5,9.5"/>
<path d="M309.8,1914.7 C328.3,1913.3 389.3,1908.5 421.0,1906.4 C452.7,1904.3 468.1,1904.7 500.0,1902.4 C531.9,1900.1 579.5,1895.6 612.2,1892.6 C644.9,1889.6 668.3,1887.2 696.4,1884.2 C724.5,1881.2 754.3,1877.7 780.6,1874.4 C806.9,1871.1 842.1,1866.2 854.4,1864.5" stroke="#9a32cd" stroke-dasharray="9.5,9.5"/>
</g>
<polygon points="1032.7,60.7 1046.2,56.6 1045.8,65.8" fill="#191970" stroke="#191970" stroke-width="1" stroke-linejoin="miter" shape-rendering="crispEdges"/>
<polygon points="999.5,107.3 1012.8,102.7 1012.8,111.9" fill="#9a32cd" stroke="#9a32cd" stroke-width="1" stroke-linejoin="miter" shape-rendering="crispEdges"/>
<polygon points="1510.3,98.8 1496.3,100.1 1498.5,91.1" fill="#9a32cd" stroke="#9a32cd" stroke-width="1" stroke-linejoin="miter" shape-rendering="crispEdges"/>
<polygon points="1638.0,33.7 1652.0,31.9 1650.1,40.9" fill="#9a32cd" stroke="#9a32cd" stroke-width="1" stroke-linejoin="miter" shape-rendering="crispEdges"/>
<polygon points="1614.6,109.2 1628.3,106.2 1627.3,115.3" fill="#9a32cd" stroke="#9a32cd" stroke-width="1" stroke-linejoin="miter" shape-rendering="crispEdges"/>
<polygon points="1646.6,165.6 1659.9,161.1 1659.9,170.3" fill="#9a32cd" stroke="#9a32cd" stroke-width="1" stroke-linejoin="miter" shape-rendering="crispEdges"/>
<polygon points="950.4,166.8 963.6,162.0 963.8,171.2" fill="#9a32cd" stroke="#9a32cd" stroke-width="1" stroke-linejoin="miter" shape-rendering="crispEdges"/>
<polygon points="1438.7,213.3 1451.8,208.0 1452.2,217.2" fill="#9a32cd" stroke="#9a32cd" stroke-width="1" stroke-linejoin="miter" shape-rendering="crispEdges"/>
<polygon points="246.4,271.0 259.1,265.0 260.1,274.1" fill="#191970" stroke="#191970" stroke-width="1" stroke-linejoin="miter" shape-rendering="crispEdges"/>
<polygon points="246.4,287.8 260.5,287.1 257.9,295.9" fill="#191970" stroke="#191970" stroke-width="1" stroke-linejoin="miter" shape-rendering="crispEdges"/>
<polygon points="246.4,273.6 259.6,268.7 259.8,277.9" fill="#9a32cd" stroke="#9a32cd" stroke-width="1" stroke-linejoin="miter" shape-rendering="crispEdges"/>
<polygon points="1563.8,1052.5 1560.9,1038.7 1570.0,1039.9" fill="#9a32cd" stroke="#9a32cd" stroke-width="1" stroke-linejoin="miter" shape-rendering="crispEdges"/>
<polygon points="994.8,366.4 1006.7,358.8 1008.8,367.8" fill="#9a32cd" stroke="#9a32cd" stroke-width="1" stroke-linejoin="miter" shape-rendering="crispEdges"/>
<polygon points="866.2,372.3 852.4,374.8 853.8,365.7" fill="#9a32cd" stroke="#9a32cd" stroke-width="1" stroke-linejoin="miter" shape-rendering="crispEdges"/>
<polygon points="1011.6,461.0 1024.1,454.5 1025.4,463.6" fill="#9a32cd" stroke="#9a32cd" stroke-width="1" stroke-linejoin="miter" shape-rendering="crispEdges"/>
<polygon points="400.4,473.4 413.7,468.8 413.7,478.0" fill="#9a32cd" stroke="#9a32cd" stroke-width="1" stroke-linejoin="miter" shape-rendering="crispEdges"/>
<polygon points="335.6,584.2 348.9,579.6 348.9,588.8" fill="#9a32cd" stroke="#9a32cd" stroke-width="1" stroke-linejoin="miter" shape-rendering="crispEdges"/>
<polygon points="256.8,597.7 270.8,596.5 268.5,605.5" fill="#9a32cd" stroke="#9a32cd" stroke-width="1" stroke-linejoin="miter" shape-rendering="crispEdges"/>
<polygon points="234.3,1181.6 243.0,1170.6 248.0,1178.3" fill="#9a32cd" stroke="#9a32cd" stroke-width="1" stroke-linejoin="miter" shape-rendering="crispEdges"/>
<polygon points="994.8,373.2 1007.6,367.3 1008.5,376.5" fill="#9a32cd" stroke="#9a32cd" stroke-width="1" stroke-linejoin="miter" shape-rendering="crispEdges"/>
<polygon points="1078.7,426.4 1092.3,422.8 1091.6,432.0" fill="#9a32cd" stroke="#9a32cd" stroke-width="1" stroke-linejoin="miter" shape-rendering="crispEdges"/>
<polygon points="1013.0,487.6 1026.8,484.9 1025.5,494.0" fill="#9a32cd" stroke="#9a32cd" stroke-width="1" stroke-linejoin="miter" shape-rendering="crispEdges"/>
<polygon points="316.0,572.4 328.3,565.6 329.9,574.7" fill="#9a32cd" stroke="#9a32cd" stroke-width="1" stroke-linejoin="miter" shape-rendering="crispEdges"/>
<polygon points="1011.6,587.0 1025.0,582.7 1024.8,591.9" fill="#9a32cd" stroke="#9a32cd" stroke-width="1" stroke-linejoin="miter" shape-rendering="crispEdges"/>
<polygon points="1002.6,632.6 1015.9,628.1 1015.9,637.3" fill="#9a32cd" stroke="#9a32cd" stroke-width="1" stroke-linejoin="miter" shape-rendering="crispEdges"/>
<polygon points="1018.6,680.8 1032.0,676.4 1031.8,685.6" fill="#9a32cd" stroke="#9a32cd" stroke-width="1" stroke-linejoin="miter" shape-rendering="crispEdges"/>
<polygon points="1011.6,728.8 1025.0,724.4 1024.8,733.6" fill="#9a32cd" stroke="#9a32cd" stroke-width="1" stroke-linejoin="miter" shape-rendering="crispEdges"/>
<polygon points="1012.7,777.0 1026.1,772.6 1025.9,781.8" fill="#9a32cd" stroke="#9a32cd" stroke-width="1" stroke-linejoin="miter" shape-rendering="crispEdges"/>
<polygon points="998.7,824.8 1012.1,820.4 1011.9,829.6" fill="#9a32cd" stroke="#9a32cd" stroke-width="1" stroke-linejoin="miter" shape-rendering="crispEdges"/>
<polygon points="1030.7,873.0 1044.1,868.8 1043.9,878.0" fill="#9a32cd" stroke="#9a32cd" stroke-width="1" stroke-linejoin="miter" shape-rendering="crispEdges"/>
<polygon points="1039.6,921.0 1052.9,916.5 1052.9,925.7" fill="#9a32cd" stroke="#9a32cd" stroke-width="1" stroke-linejoin="miter" shape-rendering="crispEdges"/>
<polygon points="1012.7,969.0 1026.1,964.7 1025.9,973.9" fill="#9a32cd" stroke="#9a32cd" stroke-width="1" stroke-linejoin="miter" shape-rendering="crispEdges"/>
<polygon points="999.5,1017.4 1012.9,1013.1 1012.7,1022.3" fill="#9a32cd" stroke="#9a32cd" stroke-width="1" stroke-linejoin="miter" shape-rendering="crispEdges"/>
<polygon points="1020.5,1064.8 1033.8,1060.2 1033.8,1069.4" fill="#9a32cd" stroke="#9a32cd" stroke-width="1" stroke-linejoin="miter" shape-rendering="crispEdges"/>
<polygon points="1006.5,1111.6 1019.7,1106.8 1019.9,1116.0" fill="#9a32cd" stroke="#9a32cd" stroke-width="1" stroke-linejoin="miter" shape-rendering="crispEdges"/>
<polygon points="2006.0,495.4 1995.8,505.0 1992.0,496.7" fill="#9a32cd" stroke="#9a32cd" stroke-width="1" stroke-linejoin="miter" shape-rendering="crispEdges"/>
<polygon points="1568.0,1052.5 1571.9,1039.0 1579.4,1044.3" fill="#9a32cd" stroke="#9a32cd" stroke-width="1" stroke-linejoin="miter" shape-rendering="crispEdges"/>
<polygon points="1991.4,946.8 1978.0,951.1 1978.2,941.9" fill="#9a32cd" stroke="#9a32cd" stroke-width="1" stroke-linejoin="miter" shape-rendering="crispEdges"/>
<polygon points="1623.2,1052.5 1634.0,1043.5 1637.3,1052.1" fill="#9a32cd" stroke="#9a32cd" stroke-width="1" stroke-linejoin="miter" shape-rendering="crispEdges"/>
<polygon points="1970.4,1076.6 1956.9,1080.4 1957.4,1071.2" fill="#9a32cd" stroke="#9a32cd" stroke-width="1" stroke-linejoin="miter" shape-rendering="crispEdges"/>
<polygon points="1623.2,1077.7 1637.2,1076.7 1634.9,1085.6" fill="#9a32cd" stroke="#9a32cd" stroke-width="1" stroke-linejoin="miter" shape-rendering="crispEdges"/>
<polygon points="1916.2,1147.5 1902.6,1151.0 1903.3,1141.8" fill="#9a32cd" stroke="#9a32cd" stroke-width="1" stroke-linejoin="miter" shape-rendering="crispEdges"/>
<polygon points="1575.0,1077.7 1586.4,1086.0 1578.9,1091.2" fill="#9a32cd" stroke="#9a32cd" stroke-width="1" stroke-linejoin="miter" shape-rendering="crispEdges"/>
<polygon points="978.0,2029.5 992.1,2028.7 989.5,2037.6" fill="#9a32cd" stroke="#9a32cd" stroke-width="1" stroke-linejoin="miter" shape-rendering="crispEdges"/>
<polygon points="1011.0,1237.0 1024.7,1233.7 1023.8,1242.8" fill="#9a32cd" stroke="#9a32cd" stroke-width="1" stroke-linejoin="miter" shape-rendering="crispEdges"/>
<polygon points="1008.5,1280.0 1022.0,1276.1 1021.5,1285.3" fill="#9a32cd" stroke="#9a32cd" stroke-width="1" stroke-linejoin="miter" shape-rendering="crispEdges"/>
<polygon points="1010.4,1359.4 1023.6,1354.6 1023.8,1363.8" fill="#9a32cd" stroke="#9a32cd" stroke-width="1" stroke-linejoin="miter" shape-rendering="crispEdges"/>
<polygon points="1032.6,1405.6 1045.9,1400.9 1045.9,1410.1" fill="#9a32cd" stroke="#9a32cd" stroke-width="1" stroke-linejoin="miter" shape-rendering="crispEdges"/>
<polygon points="1012.4,1453.6 1025.7,1448.9 1025.7,1458.1" fill="#9a32cd" stroke="#9a32cd" stroke-width="1" stroke-linejoin="miter" shape-rendering="crispEdges"/>
<polygon points="1014.4,1499.0 1027.4,1493.7 1027.9,1502.9" fill="#9a32cd" stroke="#9a32cd" stroke-width="1" stroke-linejoin="miter" shape-rendering="crispEdges"/>
<polygon points="1028.7,1545.0 1041.7,1539.7 1042.2,1548.9" fill="#9a32cd" stroke="#9a32cd" stroke-width="1" stroke-linejoin="miter" shape-rendering="crispEdges"/>
<polygon points="1018.6,1611.4 1032.4,1608.6 1031.2,1617.8" fill="#9a32cd" stroke="#9a32cd" stroke-width="1" stroke-linejoin="miter" shape-rendering="crispEdges"/>
<polygon points="217.5,1207.7 230.6,1212.9 224.6,1219.9" fill="#9a32cd" stroke="#9a32cd" stroke-width="1" stroke-linejoin="miter" shape-rendering="crispEdges"/>
<polygon points="1006.5,1716.5 1019.9,1712.2 1019.7,1721.4" fill="#9a32cd" stroke="#9a32cd" stroke-width="1" stroke-linejoin="miter" shape-rendering="crispEdges"/>
<polygon points="1031.5,1769.4 1045.0,1765.6 1044.5,1774.8" fill="#9a32cd" stroke="#9a32cd" stroke-width="1" stroke-linejoin="miter" shape-rendering="crispEdges"/>
<polygon points="1028.7,1817.7 1042.5,1814.9 1041.3,1824.0" fill="#9a32cd" stroke="#9a32cd" stroke-width="1" stroke-linejoin="miter" shape-rendering="crispEdges"/>
<polygon points="967.0,1865.4 981.1,1864.9 978.4,1873.7" fill="#9a32cd" stroke="#9a32cd" stroke-width="1" stroke-linejoin="miter" shape-rendering="crispEdges"/>
<polygon points="296.6,1932.2 310.2,1928.5 309.6,1937.7" fill="#9a32cd" stroke="#9a32cd" stroke-width="1" stroke-linejoin="miter" shape-rendering="crispEdges"/>
<polygon points="982.7,2012.5 996.0,2007.9 996.0,2017.1" fill="#9a32cd" stroke="#9a32cd" stroke-width="1" stroke-linejoin="miter" shape-rendering="crispEdges"/>
<polygon points="228.0,1407.5 237.5,1397.1 241.9,1405.1" fill="#9a32cd" stroke="#9a32cd" stroke-width="1" stroke-linejoin="miter" shape-rendering="crispEdges"/>
<polygon points="850.2,1349.4 836.4,1352.1 837.7,1343.0" fill="#9a32cd" stroke="#9a32cd" stroke-width="1" stroke-linejoin="miter" shape-rendering="crispEdges"/>
<polygon points="210.5,1432.7 221.2,1441.8 213.3,1446.5" fill="#9a32cd" stroke="#9a32cd" stroke-width="1" stroke-linejoin="miter" shape-rendering="crispEdges"/>
<polygon points="286.5,1715.8 300.1,1712.3 299.4,1721.5" fill="#9a32cd" stroke="#9a32cd" stroke-width="1" stroke-linejoin="miter" shape-rendering="crispEdges"/>
<polygon points="116.2,1787.0 102.4,1789.8 103.6,1780.7" fill="#9a32cd" stroke="#9a32cd" stroke-width="1" stroke-linejoin="miter" shape-rendering="crispEdges"/>
<polygon points="290.4,1783.6 303.1,1777.5 304.1,1786.7" fill="#9a32cd" stroke="#9a32cd" stroke-width="1" stroke-linejoin="miter" shape-rendering="crispEdges"/>
<polygon points="306.4,1844.0 319.7,1839.5 319.7,1848.7" fill="#9a32cd" stroke="#9a32cd" stroke-width="1" stroke-linejoin="miter" shape-rendering="crispEdges"/>
<polygon points="296.6,1916.2 309.3,1910.1 310.3,1919.2" fill="#9a32cd" stroke="#9a32cd" stroke-width="1" stroke-linejoin="miter" shape-rendering="crispEdges"/>
<rect x="1463.5" y="8.5" width="199.0" height="26.0" fill="#ffffff" stroke="#000000" stroke-width="1"/>
<text x="1473.0" y="25.0" text-anchor="start" textLength="175.1" lengthAdjust="spacingAndGlyphs">TAO_New_Leader_Generator</text>
<rect x="827.5" y="47.5" width="206.0" height="26.0" fill="#ffffff" stroke="#000000" stroke-width="1"/>
<text x="837.6" y="64.0" text-anchor="start" textLength="180.0" lengthAdjust="spacingAndGlyphs">ACE_Reactor_Timer_Interface</text>
<rect x="862.5" y="95.5" width="137.0" height="26.0" fill="#ffffff" stroke="#000000" stroke-width="1"/>
<text x="871.9" y="112.0" text-anchor="start" textLength="113.0" lengthAdjust="spacingAndGlyphs">ACE_Reactor_Impl</text>
<rect x="1510.5" y="95.5" width="104.0" height="26.0" fill="#ffffff" stroke="#000000" stroke-width="1"/>
<text x="1519.6" y="112.0" text-anchor="start" textLength="80.7" lengthAdjust="spacingAndGlyphs">ACE_Reactor</text>
<rect x="911.5" y="155.5" width="39.0" height="25.0" fill="#ffffff" stroke="#bfbfbf" stroke-width="1"/>
<text x="924.5" y="171.8" text-anchor="start" textLength="8.1" lengthAdjust="spacingAndGlyphs">T</text>
<rect x="1479.5" y="151.5" width="167.0" height="25.0" fill="#ffffff" stroke="#000000" stroke-width="1"/>
<text x="1489.0" y="168.1" text-anchor="start" textLength="142.6" lengthAdjust="spacingAndGlyphs">ACE_Intrusive_List&lt; T &gt;</text>
<rect x="1971.5" y="155.5" width="156.0" height="25.0" fill="#bfbfbf" stroke="#000000" stroke-width="1"/>
<text x="1980.6" y="171.8" text-anchor="start" textLength="131.8" lengthAdjust="spacingAndGlyphs">TAO_Leader_Follower</text>
<rect x="1140.5" y="208.5" width="299.0" height="24.0" fill="#ffffff" stroke="#000000" stroke-width="1"/>
<text x="1149.8" y="224.3" text-anchor="start" textLength="274.6" lengthAdjust="spacingAndGlyphs">ACE_Reverse_Lock&lt; TAO_SYNCH_MUTEX &gt;</text>
<rect x="160.5" y="263.5" width="86.0" height="25.0" fill="#ffffff" stroke="#000000" stroke-width="1"/>
<text x="169.7" y="279.8" text-anchor="start" textLength="62.4" lengthAdjust="spacingAndGlyphs">ACE_Lock</text>
<rect x="866.5" y="365.5" width="129.0" height="26.0" fill="#ffffff" stroke="#000000" stroke-width="1"/>
<text x="876.4" y="382.0" text-anchor="start" textLength="103.4" lengthAdjust="spacingAndGlyphs">ACE_Time_Value</text>
<rect x="782.5" y="413.5" width="297.0" height="26.0" fill="#ffffff" stroke="#000000" stroke-width="1"/>
<text x="792.3" y="429.9" text-anchor="start" textLength="271.7" lengthAdjust="spacingAndGlyphs">ACE_Lock_Adapter&lt; TAO_SYNCH_MUTEX &gt;</text>
<rect x="7.5" y="461.5" width="393.0" height="26.0" fill="#ffffff" stroke="#000000" stroke-width="1"/>
<text x="17.5" y="477.6" text-anchor="start" textLength="367.8" lengthAdjust="spacingAndGlyphs">ACE_Atomic_Op_Ex&lt; TAO_SYNCH_MUTEX, unsigned long &gt;</text>
<rect x="744.5" y="461.5" width="371.0" height="26.0" fill="#ffffff" stroke="#000000" stroke-width="1"/>
<text x="754.9" y="477.6" text-anchor="start" textLength="345.1" lengthAdjust="spacingAndGlyphs">ACE_Atomic_Op&lt; TAO_SYNCH_MUTEX, unsigned long &gt;</text>
<rect x="1996.5" y="469.5" width="106.0" height="26.0" fill="#ffffff" stroke="#000000" stroke-width="1"/>
<text x="2005.7" y="485.8" text-anchor="start" textLength="82.9" lengthAdjust="spacingAndGlyphs">CORBA::ORB</text>
<rect x="71.5" y="572.5" width="264.0" height="26.0" fill="#ffffff" stroke="#000000" stroke-width="1"/>
<text x="81.7" y="589.0" text-anchor="start" textLength="238.7" lengthAdjust="spacingAndGlyphs">ACE_Array_Map&lt; Key, Value, EqualTo &gt;</text>
<rect x="850.5" y="572.5" width="161.0" height="26.0" fill="#ffffff" stroke="#000000" stroke-width="1"/>
<text x="859.3" y="589.0" text-anchor="start" textLength="138.4" lengthAdjust="spacingAndGlyphs">TAO_Object_Ref_Table</text>
<rect x="858.5" y="620.5" width="144.0" height="25.0" fill="#ffffff" stroke="#ff0000" stroke-width="1"/>
<text x="867.9" y="636.6" text-anchor="start" textLength="120.1" lengthAdjust="spacingAndGlyphs">TAO_Policy_Current</text>
<rect x="842.5" y="668.5" width="176.0" height="25.0" fill="#ffffff" stroke="#000000" stroke-width="1"/>
<text x="851.6" y="685.0" text-anchor="start" textLength="153.1" lengthAdjust="spacingAndGlyphs">TAO_Request_Dispatcher</text>
<rect x="850.5" y="716.5" width="161.0" height="25.0" fill="#ffffff" stroke="#000000" stroke-width="1"/>
<text x="859.7" y="733.0" text-anchor="start" textLength="137.7" lengthAdjust="spacingAndGlyphs">TAO_ORB_Parameters</text>
<rect x="848.5" y="764.5" width="165.0" height="25.0" fill="#ffffff" stroke="#000000" stroke-width="1"/>
<text x="858.2" y="780.9" text-anchor="start" textLength="139.9" lengthAdjust="spacingAndGlyphs">TAO_Flushing_Strategy</text>
<rect x="863.5" y="812.5" width="136.0" height="25.0" fill="#ffffff" stroke="#ff0000" stroke-width="1"/>
<text x="872.7" y="828.9" text-anchor="start" textLength="112.0" lengthAdjust="spacingAndGlyphs">TAO_Stub_Factory</text>
<rect x="831.5" y="860.5" width="200.0" height="25.0" fill="#ffffff" stroke="#ff0000" stroke-width="1"/>
<text x="841.1" y="876.9" text-anchor="start" textLength="175.1" lengthAdjust="spacingAndGlyphs">TAO_Client_Strategy_Factory</text>
<rect x="822.5" y="908.5" width="217.0" height="25.0" fill="#ffffff" stroke="#ff0000" stroke-width="1"/>
<text x="832.2" y="924.9" text-anchor="start" textLength="192.7" lengthAdjust="spacingAndGlyphs">TAO_Endpoint_Selector_Factory</text>
<rect x="1991.5" y="939.5" width="115.0" height="25.0" fill="#ffffff" stroke="#ff0000" stroke-width="1"/>
<text x="2000.3" y="956.0" text-anchor="start" textLength="92.4" lengthAdjust="spacingAndGlyphs">CORBA::Object</text>
<rect x="847.5" y="956.5" width="166.0" height="25.0" fill="#ffffff" stroke="#000000" stroke-width="1"/>
<text x="856.6" y="973.2" text-anchor="start" textLength="142.1" lengthAdjust="spacingAndGlyphs">TAO_Codeset_Manager</text>
<rect x="860.5" y="1004.5" width="139.0" height="25.0" fill="#ffffff" stroke="#ff0000" stroke-width="1"/>
<text x="869.7" y="1020.8" text-anchor="start" textLength="115.7" lengthAdjust="spacingAndGlyphs">TAO_BiDir_Adapter</text>
<rect x="839.5" y="1052.5" width="181.0" height="25.0" fill="#ffffff" stroke="#ff0000" stroke-width="1"/>
<text x="848.4" y="1068.8" text-anchor="start" textLength="158.2" lengthAdjust="spacingAndGlyphs">TAO_Collocation_Resolver</text>
<rect x="1502.5" y="1052.5" width="121.0" height="25.0" fill="#ffffff" stroke="#000000" stroke-width="1"/>
<text x="1511.3" y="1069.1" text-anchor="start" textLength="98.0" lengthAdjust="spacingAndGlyphs">TAO_ORB_Core</text>
<rect x="1970.5" y="1075.5" width="158.0" height="25.0" fill="#ffffff" stroke="#000000" stroke-width="1"/>
<text x="1979.4" y="1091.8" text-anchor="start" textLength="135.5" lengthAdjust="spacingAndGlyphs">TAO_Adapter_Registry</text>
<rect x="855.5" y="1100.5" width="151.0" height="25.0" fill="#ffffff" stroke="#ff0000" stroke-width="1"/>
<text x="864.4" y="1116.8" text-anchor="start" textLength="128.1" lengthAdjust="spacingAndGlyphs">TAO_Parser_Registry</text>
<rect x="1916.5" y="1144.5" width="267.0" height="25.0" fill="#ffffff" stroke="#ff0000" stroke-width="1"/>
<text x="1926.2" y="1161.1" text-anchor="start" textLength="241.9" lengthAdjust="spacingAndGlyphs">TAO_Thread_Lane_Resources_Manager</text>
<rect x="108.5" y="1181.5" width="192.0" height="27.0" fill="#ffffff" stroke="#ff0000" stroke-width="1"/>
<text x="118.3" y="1198.2" text-anchor="start" textLength="166.5" lengthAdjust="spacingAndGlyphs">ACE_String_Base&lt; CHAR &gt;</text>
<rect x="799.5" y="1211.5" width="263.0" height="25.0" fill="#ffffff" stroke="#ff0000" stroke-width="1"/>
<text x="809.7" y="1227.9" text-anchor="start" textLength="237.4" lengthAdjust="spacingAndGlyphs">TAO_Network_Priority_Protocols_Hooks</text>
<rect x="851.5" y="1259.5" width="157.0" height="25.0" fill="#ffffff" stroke="#ff0000" stroke-width="1"/>
<text x="860.9" y="1275.9" text-anchor="start" textLength="133.3" lengthAdjust="spacingAndGlyphs">TAO_Protocols_Hooks</text>
<rect x="850.5" y="1346.5" width="160.0" height="25.0" fill="#ffffff" stroke="#ff0000" stroke-width="1"/>
<text x="860.0" y="1362.3" text-anchor="start" textLength="135.7" lengthAdjust="spacingAndGlyphs">ACE_Thread_Manager</text>
<rect x="828.5" y="1394.5" width="204.0" height="25.0" fill="#ffffff" stroke="#ff0000" stroke-width="1"/>
<text x="837.9" y="1410.3" text-anchor="start" textLength="180.2" lengthAdjust="spacingAndGlyphs">TAO_Server_Strategy_Factory</text>
<rect x="144.5" y="1407.5" width="119.0" height="26.0" fill="#ffffff" stroke="#ff0000" stroke-width="1"/>
<text x="153.5" y="1424.1" text-anchor="start" textLength="95.9" lengthAdjust="spacingAndGlyphs">TAO_Policy_Set</text>
<rect x="848.5" y="1442.5" width="164.0" height="25.0" fill="#ffffff" stroke="#ff0000" stroke-width="1"/>
<text x="857.2" y="1458.3" text-anchor="start" textLength="141.3" lengthAdjust="spacingAndGlyphs">TAO_Resource_Factory</text>
<rect x="846.5" y="1490.5" width="168.0" height="25.0" fill="#ffffff" stroke="#ff0000" stroke-width="1"/>
<text x="855.6" y="1506.3" text-anchor="start" textLength="144.8" lengthAdjust="spacingAndGlyphs">TAO_Valuetype_Adapter</text>
<rect x="831.5" y="1537.5" width="198.0" height="26.0" fill="#ffffff" stroke="#000000" stroke-width="1"/>
<text x="840.8" y="1553.9" text-anchor="start" textLength="173.6" lengthAdjust="spacingAndGlyphs">TAO_IORInterceptor_Adapter</text>
<rect x="842.5" y="1585.5" width="176.0" height="26.0" fill="#ffffff" stroke="#ff0000" stroke-width="1"/>
<text x="852.6" y="1601.9" text-anchor="start" textLength="150.9" lengthAdjust="spacingAndGlyphs">TAO_Pseudo_Var_T&lt; T &gt;</text>
<rect x="120.5" y="1696.5" width="166.0" height="25.0" fill="#ffffff" stroke="#000000" stroke-width="1"/>
<text x="130.0" y="1712.8" text-anchor="start" textLength="142.1" lengthAdjust="spacingAndGlyphs">TAO_Service_Callbacks</text>
<rect x="854.5" y="1696.5" width="152.0" height="25.0" fill="#ffffff" stroke="#ff0000" stroke-width="1"/>
<text x="864.0" y="1713.1" text-anchor="start" textLength="128.1" lengthAdjust="spacingAndGlyphs">TAO_Policy_Manager</text>
<rect x="828.5" y="1744.5" width="203.0" height="25.0" fill="#ffffff" stroke="#000000" stroke-width="1"/>
<text x="838.1" y="1761.0" text-anchor="start" textLength="178.8" lengthAdjust="spacingAndGlyphs">TAO_Fault_Tolerance_Service</text>
<rect x="116.5" y="1783.5" width="174.0" height="25.0" fill="#ffffff" stroke="#ff0000" stroke-width="1"/>
<text x="126.4" y="1800.1" text-anchor="start" textLength="148.9" lengthAdjust="spacingAndGlyphs">ACE_Service_Repository</text>
<rect x="831.5" y="1792.5" width="198.0" height="26.0" fill="#ffffff" stroke="#000000" stroke-width="1"/>
<text x="840.1" y="1809.0" text-anchor="start" textLength="175.1" lengthAdjust="spacingAndGlyphs">TAO_Cleanup_Func_Registry</text>
<rect x="102.5" y="1831.5" width="204.0" height="25.0" fill="#ffffff" stroke="#ff0000" stroke-width="1"/>
<text x="112.0" y="1848.1" text-anchor="start" textLength="180.0" lengthAdjust="spacingAndGlyphs">ACE_Unbounded_Queue&lt; T &gt;</text>
<rect x="854.5" y="1840.5" width="152.0" height="25.0" fill="#ffffff" stroke="#000000" stroke-width="1"/>
<text x="864.2" y="1857.0" text-anchor="start" textLength="127.7" lengthAdjust="spacingAndGlyphs">ACE_Service_Gestalt</text>
<rect x="111.5" y="1912.5" width="185.0" height="25.0" fill="#ffffff" stroke="#ff0000" stroke-width="1"/>
<text x="121.5" y="1928.9" text-anchor="start" textLength="160.2" lengthAdjust="spacingAndGlyphs">ACE_Unbounded_Set&lt; T &gt;</text>
<rect x="879.5" y="2004.5" width="104.0" height="25.0" fill="#ffffff" stroke="#000000" stroke-width="1"/>
<text x="888.8" y="2020.9" text-anchor="start" textLength="79.7" lengthAdjust="spacingAndGlyphs">TAO_Adapter</text>
<text x="1717.8" y="44.0" text-anchor="start" textLength="139.4" lengthAdjust="spacingAndGlyphs">new_leader_generator_</text>
<text x="1536.8" y="68.0" text-anchor="start" textLength="48.4" lengthAdjust="spacingAndGlyphs">reactor_</text>
<text x="1239.3" y="104.0" text-anchor="start" textLength="96.8" lengthAdjust="spacingAndGlyphs">implementation_</text>
<text x="1763.8" y="115.0" text-anchor="start" textLength="48.4" lengthAdjust="spacingAndGlyphs">reactor_</text>
<text x="1275.4" y="148.5" text-anchor="start" textLength="24.2" lengthAdjust="spacingAndGlyphs">tail_</text>
<text x="1269.1" y="163.1" text-anchor="start" textLength="36.7" lengthAdjust="spacingAndGlyphs">head_</text>
<text x="1748.1" y="148.5" text-anchor="start" textLength="77.8" lengthAdjust="spacingAndGlyphs">follower_set_</text>
<text x="1733.8" y="163.1" text-anchor="start" textLength="106.4" lengthAdjust="spacingAndGlyphs">follower_free_list_</text>
<text x="1519.4" y="199.0" text-anchor="start" textLength="82.2" lengthAdjust="spacingAndGlyphs">reverse_lock_</text>
<text x="1238.9" y="264.0" text-anchor="start" textLength="97.6" lengthAdjust="spacingAndGlyphs">object_init_lock_</text>
<text x="1757.8" y="287.0" text-anchor="start" textLength="59.4" lengthAdjust="spacingAndGlyphs">orb_core_</text>
<text x="1534.7" y="308.0" text-anchor="start" textLength="50.6" lengthAdjust="spacingAndGlyphs">timeout_</text>
<text x="899.4" y="324.5" text-anchor="start" textLength="57.2" lengthAdjust="spacingAndGlyphs">max_time</text>
<text x="915.2" y="339.1" text-anchor="start" textLength="25.7" lengthAdjust="spacingAndGlyphs">zero</text>
<text x="1190.5" y="365.0" text-anchor="start" textLength="193.0" lengthAdjust="spacingAndGlyphs">thread_per_connection_timeout_</text>
<text x="1236.5" y="429.0" text-anchor="start" textLength="102.0" lengthAdjust="spacingAndGlyphs">data_block_lock_</text>
<text x="1534.0" y="441.0" text-anchor="start" textLength="55.0" lengthAdjust="spacingAndGlyphs">refcount_</text>
<text x="555.2" y="469.0" text-anchor="start" textLength="31.5" lengthAdjust="spacingAndGlyphs">impl_</text>
<text x="1260.0" y="500.0" text-anchor="start" textLength="55.0" lengthAdjust="spacingAndGlyphs">refcount_</text>
<text x="889.0" y="530.3" text-anchor="start" textLength="80.0" lengthAdjust="spacingAndGlyphs">init_ref_map_</text>
<text x="1773.8" y="540.7" text-anchor="start" textLength="26.4" lengthAdjust="spacingAndGlyphs">orb_</text>
<text x="552.5" y="580.0" text-anchor="start" textLength="36.0" lengthAdjust="spacingAndGlyphs">table_</text>
<text x="1236.9" y="586.4" text-anchor="start" textLength="101.3" lengthAdjust="spacingAndGlyphs">object_ref_table_</text>
<text x="1242.7" y="627.7" text-anchor="start" textLength="89.5" lengthAdjust="spacingAndGlyphs">policy_current_</text>
<text x="523.2" y="635.0" text-anchor="start" textLength="97.6" lengthAdjust="spacingAndGlyphs">endpoints_map_</text>
<text x="1227.7" y="675.4" text-anchor="start" textLength="119.6" lengthAdjust="spacingAndGlyphs">request_dispatcher_</text>
<text x="1757.8" y="709.0" text-anchor="start" textLength="59.4" lengthAdjust="spacingAndGlyphs">orb_core_</text>
<text x="511.2" y="712.0" text-anchor="start" textLength="119.6" lengthAdjust="spacingAndGlyphs">stub_factory_name_</text>
<text x="488.8" y="726.6" text-anchor="start" textLength="164.4" lengthAdjust="spacingAndGlyphs">collocation_resolver_name_</text>
<text x="524.0" y="741.2" text-anchor="start" textLength="93.9" lengthAdjust="spacingAndGlyphs">default_init_ref_</text>
<text x="471.6" y="755.8" text-anchor="start" textLength="198.8" lengthAdjust="spacingAndGlyphs">endpoint_selector_factory_name_</text>
<text x="499.1" y="770.4" text-anchor="start" textLength="143.8" lengthAdjust="spacingAndGlyphs">protocols_hooks_name_</text>
<text x="512.7" y="785.0" text-anchor="start" textLength="116.7" lengthAdjust="spacingAndGlyphs">poa_factory_name_</text>
<text x="426.5" y="799.6" text-anchor="start" textLength="289.1" lengthAdjust="spacingAndGlyphs">thread_lane_resources_manager_factory_name_</text>
<text x="529.2" y="814.2" text-anchor="start" textLength="83.6" lengthAdjust="spacingAndGlyphs">pref_network_</text>
<text x="504.6" y="828.8" text-anchor="start" textLength="132.8" lengthAdjust="spacingAndGlyphs">poa_factory_directive_</text>
<text x="1249.1" y="723.0" text-anchor="start" textLength="77.8" lengthAdjust="spacingAndGlyphs">orb_params_</text>
<text x="1232.9" y="770.8" text-anchor="start" textLength="107.1" lengthAdjust="spacingAndGlyphs">flushing_strategy_</text>
<text x="1247.9" y="820.0" text-anchor="start" textLength="79.2" lengthAdjust="spacingAndGlyphs">stub_factory_</text>
<text x="1754.0" y="839.0" text-anchor="start" textLength="66.0" lengthAdjust="spacingAndGlyphs">pi_current_</text>
<text x="1730.9" y="853.6" text-anchor="start" textLength="112.2" lengthAdjust="spacingAndGlyphs">ior_manip_factory_</text>
<text x="1758.0" y="868.2" text-anchor="start" textLength="58.0" lengthAdjust="spacingAndGlyphs">ior_table_</text>
<text x="1733.1" y="882.8" text-anchor="start" textLength="107.9" lengthAdjust="spacingAndGlyphs">typecode_factory_</text>
<text x="1733.4" y="897.4" text-anchor="start" textLength="107.1" lengthAdjust="spacingAndGlyphs">implrepo_service_</text>
<text x="1742.2" y="912.0" text-anchor="start" textLength="89.5" lengthAdjust="spacingAndGlyphs">codec_factory_</text>
<text x="1716.2" y="926.6" text-anchor="start" textLength="141.6" lengthAdjust="spacingAndGlyphs">compression_manager_</text>
<text x="1738.6" y="941.2" text-anchor="start" textLength="96.9" lengthAdjust="spacingAndGlyphs">dynany_factory_</text>
<text x="1245.4" y="870.4" text-anchor="start" textLength="85.1" lengthAdjust="spacingAndGlyphs">client_factory_</text>
<text x="1208.3" y="914.0" text-anchor="start" textLength="158.5" lengthAdjust="spacingAndGlyphs">endpoint_selector_factory_</text>
<text x="1231.0" y="967.0" text-anchor="start" textLength="113.0" lengthAdjust="spacingAndGlyphs">codeset_manager_</text>
<text x="1757.8" y="993.0" text-anchor="start" textLength="59.4" lengthAdjust="spacingAndGlyphs">orb_core_</text>
<text x="1245.8" y="1016.0" text-anchor="start" textLength="84.4" lengthAdjust="spacingAndGlyphs">bidir_adapter_</text>
<text x="1736.4" y="1056.7" text-anchor="start" textLength="102.7" lengthAdjust="spacingAndGlyphs">adapter_registry_</text>
<text x="1226.3" y="1059.8" text-anchor="start" textLength="124.0" lengthAdjust="spacingAndGlyphs">collocation_resolver_</text>
<text x="1757.8" y="1080.0" text-anchor="start" textLength="59.4" lengthAdjust="spacingAndGlyphs">orb_core_</text>
<text x="1239.8" y="1080.0" text-anchor="start" textLength="95.4" lengthAdjust="spacingAndGlyphs">parser_registry_</text>
<text x="1686.1" y="1104.7" text-anchor="start" textLength="201.8" lengthAdjust="spacingAndGlyphs">thread_lane_resources_manager_</text>
<text x="879.8" y="1144.5" text-anchor="start" textLength="98.3" lengthAdjust="spacingAndGlyphs">default_policies_</text>
<text x="1757.8" y="1155.0" text-anchor="start" textLength="59.4" lengthAdjust="spacingAndGlyphs">orb_core_</text>
<text x="1185.5" y="1191.7" text-anchor="start" textLength="204.0" lengthAdjust="spacingAndGlyphs">network_priority_protocols_hooks_</text>
<text x="1235.8" y="1259.6" text-anchor="start" textLength="103.5" lengthAdjust="spacingAndGlyphs">protocols_hooks_</text>
<text x="1276.0" y="1304.5" text-anchor="start" textLength="22.0" lengthAdjust="spacingAndGlyphs">tm_</text>
<text x="902.1" y="1317.0" text-anchor="start" textLength="52.8" lengthAdjust="spacingAndGlyphs">thr_mgr_</text>
<text x="1242.0" y="1371.8" text-anchor="start" textLength="91.0" lengthAdjust="spacingAndGlyphs">server_factory_</text>
<text x="1234.7" y="1416.7" text-anchor="start" textLength="105.6" lengthAdjust="spacingAndGlyphs">resource_factory_</text>
<text x="1229.5" y="1465.0" text-anchor="start" textLength="115.9" lengthAdjust="spacingAndGlyphs">valuetype_adapter_</text>
<text x="1215.6" y="1506.5" text-anchor="start" textLength="143.8" lengthAdjust="spacingAndGlyphs">ior_interceptor_adapter_</text>
<text x="1266.6" y="1553.3" text-anchor="start" textLength="41.8" lengthAdjust="spacingAndGlyphs">rt_orb_</text>
<text x="1248.6" y="1567.9" text-anchor="start" textLength="77.8" lengthAdjust="spacingAndGlyphs">poa_current_</text>
<text x="1255.6" y="1582.5" text-anchor="start" textLength="63.8" lengthAdjust="spacingAndGlyphs">rt_current_</text>
<text x="1257.8" y="1597.1" text-anchor="start" textLength="59.4" lengthAdjust="spacingAndGlyphs">root_poa_</text>
<text x="897.8" y="1631.6" text-anchor="start" textLength="61.6" lengthAdjust="spacingAndGlyphs">server_id_</text>
<text x="555.7" y="1676.5" text-anchor="start" textLength="31.5" lengthAdjust="spacingAndGlyphs">impl_</text>
<text x="1237.2" y="1677.3" text-anchor="start" textLength="100.5" lengthAdjust="spacingAndGlyphs">policy_manager_</text>
<text x="511.1" y="1722.8" text-anchor="start" textLength="118.9" lengthAdjust="spacingAndGlyphs">ft_service_callback_</text>
<text x="1255.1" y="1737.0" text-anchor="start" textLength="63.8" lengthAdjust="spacingAndGlyphs">ft_service_</text>
<text x="175.7" y="1754.9" text-anchor="start" textLength="53.6" lengthAdjust="spacingAndGlyphs">svc_rep_</text>
<text x="554.6" y="1769.0" text-anchor="start" textLength="33.8" lengthAdjust="spacingAndGlyphs">repo_</text>
<text x="1228.7" y="1793.0" text-anchor="start" textLength="116.7" lengthAdjust="spacingAndGlyphs">tss_cleanup_funcs_</text>
<text x="1530.6" y="1799.7" text-anchor="start" textLength="58.7" lengthAdjust="spacingAndGlyphs">adapters_</text>
<text x="536.2" y="1826.7" text-anchor="start" textLength="71.2" lengthAdjust="spacingAndGlyphs">svc_queue_</text>
<text x="508.0" y="1841.3" text-anchor="start" textLength="127.7" lengthAdjust="spacingAndGlyphs">svc_conf_file_queue_</text>
<text x="1266.2" y="1847.0" text-anchor="start" textLength="42.6" lengthAdjust="spacingAndGlyphs">config_</text>
<text x="501.9" y="1863.7" text-anchor="start" textLength="140.1" lengthAdjust="spacingAndGlyphs">processed_static_svcs_</text>
<text x="536.1" y="1878.3" text-anchor="start" textLength="71.9" lengthAdjust="spacingAndGlyphs">static_svcs_</text>
<text x="873.2" y="1947.3" text-anchor="start" textLength="111.5" lengthAdjust="spacingAndGlyphs">protocol_factories_</text>
<text x="1246.8" y="1976.2" text-anchor="start" textLength="81.5" lengthAdjust="spacingAndGlyphs">poa_adapter_</text>
</svg></body></html>
